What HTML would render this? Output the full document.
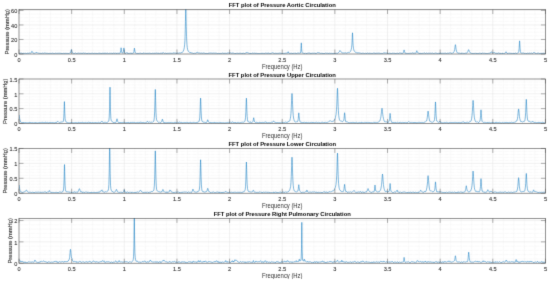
<!DOCTYPE html>
<html><head><meta charset="utf-8"><style>
html,body{margin:0;padding:0;background:#fff;width:550px;height:282px;overflow:hidden}
svg text{font-family:"Liberation Sans",sans-serif}
svg{will-change:transform}
.tl{font-size:5.6px;fill:#333333;stroke:#333333;stroke-width:0.1px;letter-spacing:0px}
.lb{font-size:5.9px;fill:#333333;stroke:#333333;stroke-width:0px;letter-spacing:0px}
.yl{font-size:5.75px;fill:#333333;stroke:#333333;stroke-width:0.12px;letter-spacing:0px}
.tt{font-size:5.85px;font-weight:bold;fill:#000;letter-spacing:0px}
.mg{stroke:#e6e6e6;stroke-width:0.4;stroke-dasharray:0.6 0.6}
.Mg{stroke:#e0e0e0;stroke-width:0.45}
.tk{stroke:#4a4a4a;stroke-width:0.5;stroke-opacity:0.85}
</style></head>
<body>
<svg width="550" height="282" viewBox="0 0 550 282" style="position:absolute;left:0;top:0"><defs><filter id="bl" x="0" y="0" width="550" height="282" filterUnits="userSpaceOnUse" color-interpolation-filters="sRGB"><feConvolveMatrix order="3" kernelMatrix="1 8 1 8 64 8 1 8 1" divisor="100" edgeMode="duplicate"/></filter></defs><g filter="url(#bl)"><rect width="550" height="282" fill="#fff"/><line x1="29.53" y1="9.5" x2="29.53" y2="54" class="mg"/><line x1="40.06" y1="9.5" x2="40.06" y2="54" class="mg"/><line x1="50.59" y1="9.5" x2="50.59" y2="54" class="mg"/><line x1="61.12" y1="9.5" x2="61.12" y2="54" class="mg"/><line x1="82.17" y1="9.5" x2="82.17" y2="54" class="mg"/><line x1="92.7" y1="9.5" x2="92.7" y2="54" class="mg"/><line x1="103.23" y1="9.5" x2="103.23" y2="54" class="mg"/><line x1="113.76" y1="9.5" x2="113.76" y2="54" class="mg"/><line x1="134.82" y1="9.5" x2="134.82" y2="54" class="mg"/><line x1="145.35" y1="9.5" x2="145.35" y2="54" class="mg"/><line x1="155.88" y1="9.5" x2="155.88" y2="54" class="mg"/><line x1="166.41" y1="9.5" x2="166.41" y2="54" class="mg"/><line x1="187.46" y1="9.5" x2="187.46" y2="54" class="mg"/><line x1="197.99" y1="9.5" x2="197.99" y2="54" class="mg"/><line x1="208.52" y1="9.5" x2="208.52" y2="54" class="mg"/><line x1="219.05" y1="9.5" x2="219.05" y2="54" class="mg"/><line x1="240.11" y1="9.5" x2="240.11" y2="54" class="mg"/><line x1="250.64" y1="9.5" x2="250.64" y2="54" class="mg"/><line x1="261.17" y1="9.5" x2="261.17" y2="54" class="mg"/><line x1="271.7" y1="9.5" x2="271.7" y2="54" class="mg"/><line x1="292.75" y1="9.5" x2="292.75" y2="54" class="mg"/><line x1="303.28" y1="9.5" x2="303.28" y2="54" class="mg"/><line x1="313.81" y1="9.5" x2="313.81" y2="54" class="mg"/><line x1="324.34" y1="9.5" x2="324.34" y2="54" class="mg"/><line x1="345.4" y1="9.5" x2="345.4" y2="54" class="mg"/><line x1="355.93" y1="9.5" x2="355.93" y2="54" class="mg"/><line x1="366.46" y1="9.5" x2="366.46" y2="54" class="mg"/><line x1="376.99" y1="9.5" x2="376.99" y2="54" class="mg"/><line x1="398.04" y1="9.5" x2="398.04" y2="54" class="mg"/><line x1="408.57" y1="9.5" x2="408.57" y2="54" class="mg"/><line x1="419.1" y1="9.5" x2="419.1" y2="54" class="mg"/><line x1="429.63" y1="9.5" x2="429.63" y2="54" class="mg"/><line x1="450.69" y1="9.5" x2="450.69" y2="54" class="mg"/><line x1="461.22" y1="9.5" x2="461.22" y2="54" class="mg"/><line x1="471.75" y1="9.5" x2="471.75" y2="54" class="mg"/><line x1="482.28" y1="9.5" x2="482.28" y2="54" class="mg"/><line x1="503.33" y1="9.5" x2="503.33" y2="54" class="mg"/><line x1="513.86" y1="9.5" x2="513.86" y2="54" class="mg"/><line x1="524.39" y1="9.5" x2="524.39" y2="54" class="mg"/><line x1="534.92" y1="9.5" x2="534.92" y2="54" class="mg"/><line x1="19" y1="50.37" x2="545.45" y2="50.37" class="mg"/><line x1="19" y1="46.74" x2="545.45" y2="46.74" class="mg"/><line x1="19" y1="43.11" x2="545.45" y2="43.11" class="mg"/><line x1="19" y1="35.85" x2="545.45" y2="35.85" class="mg"/><line x1="19" y1="32.22" x2="545.45" y2="32.22" class="mg"/><line x1="19" y1="28.59" x2="545.45" y2="28.59" class="mg"/><line x1="19" y1="21.33" x2="545.45" y2="21.33" class="mg"/><line x1="19" y1="17.7" x2="545.45" y2="17.7" class="mg"/><line x1="19" y1="14.07" x2="545.45" y2="14.07" class="mg"/><line x1="71.65" y1="9.5" x2="71.65" y2="54" class="Mg"/><line x1="124.29" y1="9.5" x2="124.29" y2="54" class="Mg"/><line x1="176.94" y1="9.5" x2="176.94" y2="54" class="Mg"/><line x1="229.58" y1="9.5" x2="229.58" y2="54" class="Mg"/><line x1="282.23" y1="9.5" x2="282.23" y2="54" class="Mg"/><line x1="334.87" y1="9.5" x2="334.87" y2="54" class="Mg"/><line x1="387.52" y1="9.5" x2="387.52" y2="54" class="Mg"/><line x1="440.16" y1="9.5" x2="440.16" y2="54" class="Mg"/><line x1="492.81" y1="9.5" x2="492.81" y2="54" class="Mg"/><line x1="19" y1="39.48" x2="545.45" y2="39.48" class="Mg"/><line x1="19" y1="24.96" x2="545.45" y2="24.96" class="Mg"/><line x1="19" y1="10.44" x2="545.45" y2="10.44" class="Mg"/><svg x="0" y="0" width="550" height="282" overflow="hidden"><clipPath id="c0"><rect x="19.0" y="9.5" width="526.45" height="44.5"/></clipPath><polyline points="19.00,53.56 19.33,53.38 19.66,53.23 19.99,53.16 20.32,53.19 20.65,53.17 20.98,53.33 21.30,53.26 21.63,53.15 21.96,53.30 22.29,53.58 22.62,53.44 22.95,53.44 23.28,53.59 23.61,53.04 23.94,53.02 24.27,53.23 24.60,53.43 24.93,53.44 25.26,53.15 25.58,53.40 25.91,53.51 26.24,53.51 26.57,53.49 26.90,53.34 27.23,53.22 27.56,53.13 27.89,52.99 28.22,53.46 28.55,53.10 28.88,53.09 29.21,53.20 29.54,52.98 29.86,53.01 30.19,53.24 30.52,53.21 30.85,52.80 31.18,52.74 31.27,52.60 31.51,52.14 31.58,51.96 31.74,51.55 31.84,51.33 31.90,51.24 32.06,51.33 32.17,51.54 32.22,51.62 32.50,52.10 32.53,52.16 32.83,52.70 33.16,53.13 33.49,53.19 33.82,52.95 34.14,52.92 34.47,53.31 34.80,53.29 35.13,53.16 35.46,52.99 35.79,52.67 36.12,52.76 36.45,52.55 36.78,52.55 37.11,52.61 37.44,52.99 37.77,53.06 38.10,53.07 38.42,53.08 38.75,53.26 39.08,53.39 39.41,53.34 39.74,53.24 40.07,53.28 40.40,53.40 40.73,53.19 41.06,53.18 41.39,53.40 41.72,53.33 42.05,53.18 42.38,53.13 42.71,53.10 43.03,53.06 43.36,53.21 43.69,53.41 44.02,53.34 44.35,53.09 44.68,53.05 45.01,53.16 45.34,53.16 45.67,53.19 46.00,53.32 46.33,53.33 46.66,53.29 46.99,53.39 47.31,53.52 47.64,53.21 47.97,53.10 48.30,53.37 48.63,53.44 48.96,53.16 49.29,53.19 49.62,53.50 49.95,53.60 50.28,53.57 50.61,53.26 50.94,53.50 51.27,53.47 51.59,53.38 51.92,53.24 52.25,53.23 52.58,53.17 52.91,53.23 53.24,53.32 53.57,53.44 53.90,53.64 54.23,53.60 54.56,53.57 54.89,53.51 55.22,53.31 55.55,53.20 55.87,53.38 56.20,53.49 56.53,53.39 56.86,53.04 57.19,53.31 57.52,53.30 57.85,53.19 58.18,53.25 58.51,53.22 58.84,53.30 59.17,53.33 59.50,53.29 59.83,53.19 60.15,53.49 60.48,53.34 60.81,53.12 61.14,53.08 61.47,53.59 61.80,53.56 62.13,53.51 62.46,53.50 62.79,53.59 63.12,53.57 63.45,53.38 63.78,53.30 64.11,53.57 64.43,53.61 64.76,53.17 65.09,53.17 65.42,53.37 65.75,53.29 66.08,53.32 66.41,53.38 66.74,53.39 67.07,53.34 67.40,53.50 67.73,53.29 68.06,53.33 68.39,53.45 68.71,53.50 69.04,53.44 69.37,53.31 69.70,53.10 70.03,52.78 70.36,52.74 70.69,51.94 70.87,51.34 71.02,50.89 71.14,50.43 71.27,49.83 71.35,49.60 71.40,49.57 71.53,49.91 71.66,50.56 71.68,50.64 71.93,51.57 72.01,51.79 72.34,52.77 72.67,53.00 72.99,52.84 73.32,53.26 73.65,53.37 73.98,53.40 74.31,53.41 74.64,53.39 74.97,53.00 75.30,52.96 75.63,53.08 75.96,53.27 76.29,53.45 76.62,53.56 76.95,53.51 77.27,53.41 77.60,53.27 77.93,53.10 78.26,53.15 78.59,53.10 78.92,53.05 79.25,53.08 79.58,53.37 79.91,53.25 80.24,53.23 80.57,53.32 80.90,53.14 81.23,53.45 81.56,53.20 81.88,53.09 82.21,53.56 82.54,53.16 82.87,53.22 83.20,53.07 83.53,52.88 83.86,53.27 84.19,52.90 84.52,53.28 84.85,53.43 85.18,53.10 85.51,53.14 85.84,53.26 86.16,53.39 86.49,53.50 86.82,53.39 87.15,53.35 87.48,53.45 87.81,53.52 88.14,53.51 88.47,53.09 88.80,53.25 89.13,53.38 89.46,53.43 89.79,53.24 90.12,53.23 90.44,53.47 90.77,53.45 91.10,53.27 91.43,53.27 91.76,53.54 92.09,53.51 92.42,53.37 92.75,53.09 93.08,53.27 93.41,53.45 93.74,53.46 94.07,53.39 94.40,53.35 94.72,53.20 95.05,53.12 95.38,53.23 95.71,53.60 96.04,53.63 96.37,53.42 96.70,53.50 97.03,53.63 97.36,53.56 97.69,53.59 98.02,53.60 98.35,53.48 98.68,53.27 99.00,53.59 99.33,53.33 99.66,53.13 99.99,53.13 100.32,53.55 100.65,53.16 100.98,53.23 101.31,53.37 101.64,53.48 101.97,53.01 102.30,53.13 102.63,53.28 102.96,53.27 103.28,53.01 103.61,53.46 103.94,53.07 104.27,53.00 104.60,53.11 104.93,53.54 105.26,53.07 105.59,53.09 105.92,53.09 106.25,53.06 106.58,53.46 106.91,53.21 107.24,53.15 107.56,53.19 107.89,53.42 108.22,53.62 108.55,53.64 108.88,53.52 109.21,53.31 109.54,53.29 109.87,53.53 110.20,53.38 110.53,53.32 110.86,53.61 111.19,53.34 111.52,53.32 111.84,53.40 112.17,53.53 112.50,53.62 112.83,53.10 113.16,53.05 113.49,53.09 113.82,53.13 114.15,53.55 114.48,53.34 114.81,53.14 115.14,53.02 115.47,53.13 115.80,53.17 116.12,53.47 116.45,53.48 116.78,53.26 117.11,53.46 117.44,53.04 117.77,53.30 118.10,53.56 118.43,53.43 118.76,52.99 119.09,53.31 119.42,53.36 119.75,53.20 120.08,52.99 120.41,52.04 120.68,50.81 120.73,50.46 120.89,49.21 120.99,48.29 121.06,47.88 121.10,47.77 121.21,47.97 121.31,48.75 121.39,49.53 121.52,50.74 121.72,52.09 122.05,52.92 122.38,53.07 122.71,52.92 123.04,52.39 123.37,51.53 123.48,50.94 123.69,49.22 123.70,49.14 123.79,48.31 123.90,47.92 124.01,48.34 124.03,48.50 124.11,49.24 124.32,50.92 124.36,51.14 124.69,52.77 125.01,53.08 125.34,53.23 125.67,53.31 126.00,53.27 126.33,52.95 126.66,52.78 126.99,52.39 127.32,52.75 127.65,53.44 127.98,53.01 128.31,53.24 128.64,53.39 128.97,53.10 129.29,53.04 129.62,53.45 129.95,53.44 130.28,53.21 130.61,52.96 130.94,53.53 131.27,53.39 131.60,53.27 131.93,53.29 132.26,53.30 132.59,53.36 132.92,53.33 133.25,53.18 133.57,52.74 133.90,51.61 133.98,51.17 134.19,49.43 134.23,49.03 134.29,48.52 134.40,48.11 134.51,48.45 134.56,48.84 134.61,49.20 134.82,50.71 134.89,51.13 135.22,52.27 135.55,53.06 135.88,53.36 136.21,53.47 136.54,53.37 136.87,53.03 137.20,53.35 137.53,53.37 137.85,53.21 138.18,53.56 138.51,53.42 138.84,53.47 139.17,53.45 139.50,53.23 139.83,53.39 140.16,53.19 140.49,53.20 140.82,53.31 141.15,53.38 141.48,53.61 141.81,53.29 142.13,53.25 142.46,53.61 142.79,53.32 143.12,53.05 143.45,53.06 143.78,53.17 144.11,53.41 144.44,53.05 144.77,53.34 145.10,53.40 145.43,53.26 145.76,53.27 146.09,53.18 146.41,53.33 146.74,53.44 147.07,53.39 147.40,53.43 147.73,53.14 148.06,53.09 148.39,53.19 148.72,53.42 149.05,53.17 149.38,53.20 149.71,53.31 150.04,53.48 150.37,53.32 150.69,53.53 151.02,53.55 151.35,53.52 151.68,53.60 152.01,53.60 152.34,53.36 152.67,53.19 153.00,53.10 153.33,53.09 153.66,53.43 153.99,53.25 154.32,53.10 154.65,53.42 154.97,53.20 155.30,53.23 155.63,53.28 155.96,53.31 156.29,53.19 156.62,53.07 156.95,53.13 157.28,53.21 157.61,53.30 157.94,53.07 158.27,53.13 158.60,53.25 158.93,53.34 159.26,52.99 159.58,53.33 159.91,53.52 160.24,53.43 160.57,52.99 160.90,53.00 161.23,53.21 161.56,53.19 161.89,53.11 162.22,53.11 162.55,53.38 162.88,52.72 163.21,52.68 163.54,53.00 163.86,52.90 164.19,53.22 164.52,53.36 164.85,53.36 165.18,53.11 165.51,53.25 165.84,53.09 166.17,53.26 166.50,53.54 166.83,53.16 167.16,53.03 167.49,53.30 167.82,53.51 168.14,53.54 168.47,53.29 168.80,53.20 169.13,53.18 169.46,53.19 169.79,53.25 170.12,53.36 170.45,53.21 170.78,53.06 171.11,52.95 171.44,53.24 171.77,53.30 172.10,53.11 172.42,53.01 172.75,53.41 173.08,53.14 173.41,52.96 173.74,52.90 174.07,52.93 174.40,52.99 174.73,53.04 175.06,53.14 175.39,53.13 175.72,52.88 176.05,53.48 176.38,53.28 176.70,53.19 177.03,53.15 177.36,52.98 177.69,53.22 178.02,53.27 178.35,53.22 178.68,53.07 179.01,52.93 179.34,52.95 179.67,52.82 180.00,52.70 180.33,52.87 180.66,52.98 180.98,52.72 181.31,52.59 181.64,52.60 181.97,52.68 182.30,52.29 182.63,52.11 182.96,51.80 183.29,51.06 183.62,50.24 183.95,49.31 184.28,47.68 184.61,44.88 184.94,40.19 185.08,36.33 185.26,29.75 185.44,21.58 185.59,14.31 185.62,13.19 185.80,9.31 185.92,11.33 185.98,13.37 186.16,21.96 186.25,26.49 186.52,36.26 186.58,38.03 186.91,44.29 187.24,47.52 187.57,49.27 187.90,50.27 188.23,51.08 188.56,51.58 188.89,51.87 189.22,51.98 189.54,52.20 189.87,52.66 190.20,52.70 190.53,52.62 190.86,52.59 191.19,53.11 191.52,52.86 191.85,52.94 192.18,53.26 192.51,53.04 192.84,53.10 193.17,53.26 193.50,53.38 193.82,53.35 194.15,52.99 194.48,53.19 194.81,53.19 195.14,53.12 195.47,53.32 195.80,53.04 196.13,52.85 196.46,52.75 196.79,52.77 197.12,52.87 197.45,52.35 197.78,52.28 198.10,52.56 198.43,52.83 198.76,52.93 199.09,52.80 199.42,52.89 199.75,53.21 200.08,53.31 200.41,53.19 200.74,53.15 201.07,53.11 201.40,53.06 201.73,53.10 202.06,53.13 202.39,53.21 202.71,53.32 203.04,53.31 203.37,52.99 203.70,53.14 204.03,53.23 204.36,53.11 204.69,53.37 205.02,53.56 205.35,53.50 205.68,53.35 206.01,53.27 206.34,53.35 206.67,53.44 206.99,53.50 207.32,53.52 207.65,53.60 207.98,53.24 208.31,53.22 208.64,53.24 208.97,53.09 209.30,53.06 209.63,53.11 209.96,53.12 210.29,53.10 210.62,53.03 210.95,53.03 211.27,53.06 211.60,53.08 211.93,53.05 212.26,53.40 212.59,53.09 212.92,53.00 213.25,53.05 213.58,53.10 213.91,53.08 214.24,53.12 214.57,53.18 214.90,53.26 215.23,53.30 215.55,53.08 215.88,53.22 216.21,53.42 216.54,53.21 216.87,53.04 217.20,53.32 217.53,53.49 217.86,53.53 218.19,53.44 218.52,53.37 218.85,53.33 219.18,53.34 219.51,53.49 219.83,53.48 220.16,53.53 220.49,53.46 220.82,53.34 221.15,53.53 221.48,53.39 221.81,53.39 222.14,53.25 222.47,53.09 222.80,53.18 223.13,53.41 223.46,53.25 223.79,53.03 224.11,53.45 224.44,53.07 224.77,53.28 225.10,53.38 225.43,53.25 225.76,53.23 226.09,53.23 226.42,53.30 226.75,53.31 227.08,53.03 227.41,53.08 227.74,53.00 228.07,52.86 228.39,52.92 228.72,53.06 229.05,53.10 229.38,53.06 229.71,53.01 230.04,53.04 230.37,52.85 230.70,52.98 231.03,52.99 231.36,52.97 231.69,53.38 232.02,53.43 232.35,53.15 232.67,53.07 233.00,53.35 233.33,53.25 233.66,53.10 233.99,53.29 234.32,53.56 234.65,53.57 234.98,53.35 235.31,53.45 235.64,53.54 235.97,53.58 236.30,53.18 236.63,53.26 236.95,53.32 237.28,53.32 237.61,53.23 237.94,53.43 238.27,53.40 238.60,53.40 238.93,53.41 239.26,53.22 239.59,53.33 239.92,53.30 240.25,53.27 240.58,53.28 240.91,53.27 241.23,53.53 241.56,53.40 241.89,53.11 242.22,53.03 242.55,53.53 242.88,53.30 243.21,53.16 243.54,53.23 243.87,53.12 244.20,53.49 244.53,53.56 244.86,53.47 245.19,53.16 245.52,53.09 245.84,53.19 246.17,52.97 246.50,52.49 246.83,52.78 247.16,52.47 247.49,52.65 247.82,52.85 248.15,52.98 248.48,52.95 248.81,53.26 249.14,53.30 249.47,53.24 249.80,53.60 250.12,53.17 250.45,53.35 250.78,53.53 251.11,53.58 251.44,53.14 251.77,53.50 252.10,53.43 252.43,53.19 252.76,53.01 253.09,53.27 253.42,53.29 253.75,53.24 254.08,53.14 254.40,53.16 254.73,53.29 255.06,53.47 255.39,53.50 255.72,53.00 256.05,53.16 256.38,53.29 256.71,53.29 257.04,53.24 257.37,53.49 257.70,53.50 258.03,53.57 258.36,53.57 258.68,53.39 259.01,53.28 259.34,53.51 259.67,53.57 260.00,53.52 260.33,53.40 260.66,53.63 260.99,53.32 261.32,53.24 261.65,53.53 261.98,53.06 262.31,53.23 262.64,53.36 262.96,53.48 263.29,53.61 263.62,53.26 263.95,53.49 264.28,53.56 264.61,53.40 264.94,52.99 265.27,53.09 265.60,53.15 265.93,53.20 266.26,53.27 266.59,53.24 266.92,53.18 267.24,53.12 267.57,53.12 267.90,53.59 268.23,53.12 268.56,53.02 268.89,53.06 269.22,53.26 269.55,53.42 269.88,53.56 270.21,53.51 270.54,53.42 270.87,53.58 271.20,53.16 271.52,53.10 271.85,53.01 272.18,52.82 272.51,52.73 272.84,53.14 273.17,53.16 273.50,53.07 273.83,53.10 274.16,53.22 274.49,53.43 274.82,53.35 275.15,53.06 275.48,53.27 275.80,53.32 276.13,53.19 276.46,53.19 276.79,53.57 277.12,53.63 277.45,53.31 277.78,53.19 278.11,53.19 278.44,53.30 278.77,53.28 279.10,53.19 279.43,53.13 279.76,53.11 280.08,53.22 280.41,53.18 280.74,53.24 281.07,53.35 281.40,53.54 281.73,53.15 282.06,53.46 282.39,53.59 282.72,53.52 283.05,53.27 283.38,53.38 283.71,53.22 284.04,53.13 284.37,53.43 284.69,53.32 285.02,53.46 285.35,53.34 285.68,53.10 286.01,53.38 286.34,53.16 286.67,53.10 287.00,53.09 287.33,53.10 287.66,53.01 287.67,52.99 287.94,52.23 287.99,52.04 288.07,51.80 288.20,51.73 288.32,52.03 288.33,52.09 288.46,52.57 288.65,52.86 288.73,52.84 288.97,52.77 289.30,53.35 289.63,53.35 289.96,53.31 290.29,53.32 290.62,53.34 290.95,53.26 291.28,53.21 291.61,53.19 291.94,53.19 292.27,53.58 292.60,53.46 292.93,53.44 293.25,53.48 293.58,53.00 293.91,53.24 294.24,53.12 294.57,53.10 294.90,53.50 295.23,53.20 295.56,53.27 295.89,53.34 296.22,53.43 296.55,53.51 296.88,53.26 297.21,53.11 297.53,53.10 297.86,53.29 298.19,53.26 298.52,53.02 298.85,53.16 299.18,53.37 299.51,53.28 299.84,52.88 300.17,53.07 300.50,52.86 300.83,51.07 300.98,48.75 301.14,45.27 301.16,44.94 301.22,43.58 301.30,42.85 301.38,43.64 301.46,45.36 301.49,46.00 301.62,48.68 301.81,51.03 302.14,52.43 302.47,52.95 302.80,53.26 303.13,53.15 303.46,53.16 303.79,53.26 304.12,53.17 304.45,53.43 304.78,53.52 305.11,53.42 305.44,52.98 305.77,53.00 306.09,53.33 306.42,53.44 306.75,53.43 307.08,53.04 307.41,53.13 307.74,53.25 308.07,53.24 308.40,53.05 308.73,53.07 309.06,53.06 309.39,53.02 309.72,52.97 310.05,53.00 310.37,53.49 310.70,53.26 311.03,53.29 311.36,53.50 311.69,53.02 312.02,53.06 312.35,53.15 312.68,53.24 313.01,53.33 313.34,53.17 313.67,53.35 314.00,53.31 314.33,53.13 314.65,52.96 314.98,53.50 315.31,53.42 315.64,53.24 315.97,53.03 316.30,53.39 316.63,53.25 316.96,53.00 317.29,52.72 317.62,52.65 317.95,52.63 318.28,52.61 318.61,52.80 318.93,53.01 319.26,53.05 319.59,52.86 319.92,53.11 320.25,53.38 320.58,53.35 320.91,53.01 321.24,53.19 321.57,53.24 321.90,53.17 322.23,53.04 322.56,53.49 322.89,53.53 323.22,53.51 323.54,53.53 323.87,53.51 324.20,53.57 324.53,53.54 324.86,53.41 325.19,53.02 325.52,53.03 325.85,53.12 326.18,53.21 326.51,53.28 326.84,53.14 327.17,53.02 327.50,53.21 327.82,53.39 328.15,53.14 328.48,53.52 328.81,53.43 329.14,53.34 329.47,53.27 329.80,53.21 330.13,53.44 330.46,53.41 330.79,53.38 331.12,53.50 331.45,53.38 331.78,53.16 332.10,53.22 332.43,53.44 332.76,53.39 333.09,53.22 333.42,53.36 333.75,53.35 334.08,53.02 334.41,53.36 334.74,53.37 335.07,53.37 335.40,53.34 335.73,53.25 336.06,53.24 336.38,53.24 336.71,53.23 337.04,53.21 337.37,53.31 337.70,53.32 338.03,52.97 338.36,52.57 338.69,52.37 339.02,52.11 339.15,51.97 339.35,51.80 339.67,51.18 339.68,51.17 339.94,50.54 340.01,50.50 340.20,50.75 340.34,50.95 340.46,51.10 340.66,51.46 340.73,51.57 340.99,51.70 341.25,51.83 341.32,51.96 341.65,52.48 341.98,52.70 342.31,52.86 342.64,52.90 342.97,52.88 343.30,52.94 343.63,52.91 343.96,53.01 344.29,53.01 344.62,52.88 344.94,52.95 345.27,52.85 345.60,52.83 345.93,52.90 346.26,53.24 346.59,53.01 346.92,52.85 347.25,52.75 347.58,52.68 347.91,52.77 348.24,52.59 348.57,52.37 348.90,52.27 349.22,52.50 349.55,52.30 349.88,52.04 350.21,51.76 350.54,51.35 350.60,51.19 350.87,50.47 351.20,49.57 351.53,47.90 351.55,47.73 351.86,44.97 352.03,42.59 352.19,39.08 352.26,37.09 352.38,34.12 352.50,32.80 352.52,32.83 352.62,34.20 352.74,37.28 352.85,40.19 352.97,42.93 353.18,45.74 353.45,47.92 353.50,48.30 353.83,49.99 354.16,50.86 354.40,51.24 354.49,51.31 354.82,51.59 355.15,51.77 355.48,52.33 355.81,52.53 356.14,52.75 356.47,52.82 356.80,52.42 357.13,52.60 357.46,52.79 357.78,53.01 358.11,53.19 358.44,52.70 358.77,52.93 359.10,52.95 359.43,52.95 359.76,52.99 360.09,53.08 360.42,53.17 360.75,53.10 361.08,53.02 361.41,53.42 361.74,53.31 362.06,53.20 362.39,53.16 362.72,53.23 363.05,53.21 363.38,53.19 363.71,53.33 364.04,53.49 364.37,53.46 364.70,53.57 365.03,53.29 365.36,53.15 365.69,53.19 366.02,53.58 366.35,53.49 366.67,53.43 367.00,53.32 367.33,53.08 367.66,53.11 367.99,53.38 368.32,53.42 368.65,53.30 368.98,53.23 369.31,53.11 369.64,53.33 369.97,53.50 370.30,53.48 370.63,53.12 370.95,53.15 371.28,53.28 371.61,53.43 371.94,53.47 372.27,53.35 372.60,53.51 372.93,53.49 373.26,53.21 373.59,53.11 373.92,53.42 374.25,53.27 374.58,53.05 374.91,53.08 375.23,53.57 375.56,53.28 375.89,53.13 376.22,53.13 376.55,53.24 376.88,53.45 377.21,53.40 377.54,53.25 377.87,53.01 378.20,53.23 378.53,53.06 378.86,53.04 379.19,53.11 379.51,53.24 379.84,53.11 380.17,53.24 380.50,53.39 380.83,53.54 381.16,53.28 381.49,53.46 381.82,53.47 382.15,53.46 382.48,53.58 382.81,53.30 383.14,53.17 383.47,53.05 383.79,52.94 384.12,53.06 384.45,53.01 384.78,52.81 385.11,52.66 385.44,53.16 385.77,53.10 386.10,53.02 386.43,53.06 386.76,53.20 387.09,53.37 387.42,53.18 387.75,53.09 388.07,53.13 388.40,53.36 388.73,53.49 389.06,53.43 389.39,53.30 389.72,53.21 390.05,53.51 390.38,53.51 390.71,53.19 391.04,53.19 391.37,53.62 391.70,53.58 392.03,53.20 392.35,53.16 392.68,53.18 393.01,53.06 393.34,53.03 393.67,53.37 394.00,53.40 394.33,53.18 394.66,53.46 394.99,53.24 395.32,53.42 395.65,53.50 395.98,53.13 396.31,53.48 396.63,53.28 396.96,53.25 397.29,53.30 397.62,53.18 397.95,53.32 398.28,53.48 398.61,53.51 398.94,53.33 399.27,53.30 399.60,52.81 399.93,52.88 400.26,53.17 400.59,52.87 400.91,53.34 401.24,53.33 401.57,53.22 401.90,53.05 402.23,53.13 402.56,53.36 402.89,53.21 403.22,52.80 403.55,52.06 403.57,51.97 403.84,50.72 403.88,50.51 403.97,50.13 404.10,49.90 404.21,50.11 404.23,50.20 404.36,50.77 404.54,51.54 404.63,51.87 404.87,52.52 405.19,53.24 405.52,53.18 405.85,53.21 406.18,53.29 406.51,53.47 406.84,53.22 407.17,53.44 407.50,53.45 407.83,53.38 408.16,53.54 408.49,53.40 408.82,53.50 409.15,53.48 409.48,53.25 409.80,53.23 410.13,53.04 410.46,53.19 410.79,53.43 411.12,53.52 411.45,53.32 411.78,53.09 412.11,52.99 412.44,52.99 412.77,52.71 413.10,53.25 413.43,53.25 413.76,53.22 414.08,53.50 414.41,53.20 414.74,53.09 415.07,53.10 415.40,53.17 415.73,53.18 416.06,52.73 416.37,51.97 416.39,51.91 416.64,51.03 416.72,50.84 416.77,50.78 416.90,50.79 417.03,51.04 417.05,51.08 417.16,51.36 417.38,51.83 417.43,51.95 417.71,52.49 418.04,52.41 418.36,52.76 418.69,53.31 419.02,53.01 419.35,53.35 419.68,53.36 420.01,52.96 420.34,53.47 420.67,53.31 421.00,53.36 421.33,53.42 421.66,53.39 421.99,53.01 422.32,53.28 422.64,53.29 422.97,53.07 423.30,53.01 423.63,53.34 423.96,53.19 424.29,53.01 424.62,52.94 424.95,53.25 425.28,53.43 425.61,53.47 425.94,53.41 426.27,53.25 426.60,53.02 426.92,53.09 427.25,53.23 427.58,53.46 427.91,53.55 428.24,53.24 428.57,53.24 428.90,53.34 429.23,53.44 429.56,53.13 429.89,53.33 430.22,53.35 430.55,53.14 430.88,53.14 431.20,53.13 431.53,53.32 431.86,53.46 432.19,53.32 432.52,53.07 432.85,53.35 433.18,53.51 433.51,53.60 433.84,53.62 434.17,53.28 434.50,53.29 434.83,53.29 435.16,53.17 435.48,53.04 435.81,53.21 436.14,53.31 436.47,53.33 436.80,53.06 437.13,53.18 437.46,53.46 437.79,53.57 438.12,53.46 438.45,53.25 438.78,53.46 439.11,53.25 439.44,53.10 439.76,53.61 440.09,53.08 440.42,53.03 440.75,53.15 441.08,53.39 441.41,53.40 441.74,53.28 442.07,53.38 442.40,53.37 442.73,52.99 443.06,53.20 443.39,53.28 443.72,53.36 444.04,53.44 444.37,53.25 444.70,53.23 445.03,53.18 445.36,53.14 445.69,53.14 446.02,53.13 446.35,53.47 446.68,53.43 447.01,53.29 447.34,53.33 447.67,53.06 448.00,53.26 448.33,53.31 448.65,53.17 448.98,53.06 449.31,53.02 449.64,52.91 449.97,52.82 450.30,52.89 450.63,52.85 450.96,53.15 451.29,53.24 451.62,53.21 451.95,53.42 452.28,53.05 452.61,53.02 452.93,53.01 453.26,52.92 453.59,52.38 453.92,51.89 454.25,51.17 454.58,49.92 454.66,49.45 454.91,47.69 455.03,46.70 455.22,45.30 455.24,45.16 455.40,44.66 455.57,45.16 455.58,45.25 455.77,46.66 455.90,47.76 456.14,49.53 456.23,50.02 456.56,51.14 456.89,52.33 457.21,52.69 457.54,52.77 457.87,52.98 458.20,53.16 458.53,53.05 458.86,53.16 459.19,53.42 459.52,52.92 459.85,53.00 460.18,53.26 460.51,53.35 460.84,52.99 461.17,53.33 461.49,53.17 461.82,53.29 462.15,53.50 462.48,53.05 462.81,53.09 463.14,53.23 463.47,53.33 463.80,53.33 464.13,53.25 464.46,53.45 464.79,53.23 465.12,52.96 465.45,53.21 465.77,53.12 466.10,53.10 466.43,53.15 466.76,53.22 467.09,52.72 467.42,52.25 467.75,51.64 467.86,51.36 468.08,50.79 468.23,50.45 468.41,49.95 468.42,49.93 468.60,49.64 468.74,49.80 468.78,49.92 468.97,50.41 469.07,50.64 469.34,51.39 469.40,51.56 469.73,52.27 470.05,52.70 470.38,52.89 470.71,52.92 471.04,53.01 471.37,53.33 471.70,53.33 472.03,53.35 472.36,53.41 472.69,53.44 473.02,53.21 473.35,53.57 473.68,53.36 474.01,53.27 474.33,53.43 474.66,53.36 474.99,53.50 475.32,53.31 475.65,53.15 475.98,53.50 476.31,53.61 476.64,53.27 476.97,53.28 477.30,53.60 477.63,53.45 477.96,53.05 478.29,53.28 478.61,53.48 478.94,53.29 479.27,53.18 479.60,53.25 479.93,53.28 480.26,53.28 480.59,53.14 480.92,53.56 481.25,53.51 481.58,53.46 481.91,53.51 482.24,53.00 482.57,53.04 482.89,53.26 483.22,53.48 483.55,53.28 483.88,53.17 484.21,53.24 484.54,53.24 484.87,53.15 485.20,53.13 485.53,53.52 485.86,53.59 486.19,53.55 486.52,53.49 486.85,53.49 487.18,53.54 487.50,53.51 487.83,53.42 488.16,53.33 488.49,53.32 488.82,53.42 489.15,53.42 489.48,53.19 489.81,53.11 490.14,53.23 490.47,52.95 490.80,52.41 491.13,52.09 491.46,51.69 491.78,52.45 492.11,52.86 492.44,52.84 492.77,52.91 493.10,52.68 493.43,52.68 493.76,52.70 494.09,52.66 494.42,52.54 494.75,53.00 495.08,53.22 495.41,53.22 495.74,53.37 496.06,53.52 496.39,53.23 496.72,53.10 497.05,53.60 497.38,53.27 497.71,53.26 498.04,53.18 498.37,53.05 498.70,52.98 499.03,53.14 499.36,53.25 499.69,53.24 500.02,53.05 500.34,53.50 500.67,53.28 501.00,53.31 501.33,53.37 501.66,53.02 501.99,53.55 502.32,53.37 502.65,53.30 502.98,53.43 503.31,53.00 503.64,53.41 503.97,53.31 504.30,53.19 504.62,53.54 504.95,53.30 505.28,53.01 505.47,52.76 505.61,52.47 505.74,52.14 505.87,51.86 505.94,51.76 506.00,51.72 506.13,51.79 506.26,52.01 506.27,52.02 506.53,52.62 506.60,52.77 506.93,53.21 507.26,53.41 507.59,53.36 507.92,53.52 508.25,53.17 508.58,53.17 508.90,53.34 509.23,53.33 509.56,53.18 509.89,53.19 510.22,53.24 510.55,53.31 510.88,53.37 511.21,53.27 511.54,53.42 511.87,53.54 512.20,53.16 512.53,53.43 512.86,53.44 513.18,53.49 513.51,53.55 513.84,52.99 514.17,53.28 514.50,53.47 514.83,53.46 515.16,52.95 515.49,53.07 515.82,53.05 516.15,53.21 516.48,53.47 516.81,53.39 517.14,53.05 517.46,53.03 517.79,52.97 518.12,52.74 518.45,52.45 518.78,51.49 519.11,48.62 519.18,47.63 519.39,43.70 519.44,42.67 519.49,41.71 519.60,40.84 519.71,41.73 519.77,42.88 519.81,43.72 520.02,47.71 520.10,48.82 520.43,51.78 520.76,52.76 521.09,52.89 521.42,53.04 521.74,53.16 522.07,53.05 522.40,52.96 522.73,53.21 523.06,53.02 523.39,53.01 523.72,53.04 524.05,53.13 524.38,53.57 524.71,53.27 525.04,53.31 525.37,53.34 525.70,53.15 526.03,53.55 526.35,53.62 526.68,53.45 527.01,53.18 527.34,53.21 527.67,53.21 528.00,53.43 528.33,53.48 528.66,53.20 528.99,53.05 529.32,53.07 529.65,53.17 529.98,53.30 530.31,53.41 530.63,53.08 530.96,53.03 531.29,53.04 531.62,53.12 531.95,53.32 532.28,53.50 532.61,53.41 532.94,53.19 533.27,52.86 533.47,52.89 533.60,52.86 533.74,52.66 533.87,52.44 533.93,52.36 534.00,52.31 534.13,52.39 534.26,52.57 534.26,52.58 534.53,52.95 534.59,52.98 534.91,52.94 535.24,53.31 535.57,53.30 535.90,53.29 536.23,53.44 536.56,53.02 536.89,53.39 537.22,53.33 537.55,53.13 537.88,53.39 538.21,53.18 538.54,53.07 538.87,53.18 539.19,53.52 539.52,53.46 539.85,53.51 540.18,53.52 540.51,53.46 540.84,53.16 541.17,53.45 541.50,53.35 541.83,53.40 542.16,53.55 542.49,53.32 542.82,53.44 543.15,53.31 543.47,53.23 543.80,53.42 544.13,53.59 544.46,53.41 544.79,53.40 545.12,53.52 545.45,53.65" fill="none" stroke="#0072BD" stroke-width="0.5" stroke-opacity="1" stroke-linejoin="round" clip-path="url(#c0)"/></svg><rect x="19.0" y="9.5" width="526.45" height="44.5" fill="none" stroke="#4a4a4a" stroke-width="0.6" class="ax"/><line x1="19" y1="54" x2="19" y2="49.5" class="tk"/><line x1="19" y1="9.5" x2="19" y2="14" class="tk"/><text transform="translate(19,61.7) scale(1,1.1)" class="tl" text-anchor="middle">0</text><line x1="71.65" y1="54" x2="71.65" y2="49.5" class="tk"/><line x1="71.65" y1="9.5" x2="71.65" y2="14" class="tk"/><text transform="translate(71.65,61.7) scale(1,1.1)" class="tl" text-anchor="middle">0.5</text><line x1="124.29" y1="54" x2="124.29" y2="49.5" class="tk"/><line x1="124.29" y1="9.5" x2="124.29" y2="14" class="tk"/><text transform="translate(124.29,61.7) scale(1,1.1)" class="tl" text-anchor="middle">1</text><line x1="176.94" y1="54" x2="176.94" y2="49.5" class="tk"/><line x1="176.94" y1="9.5" x2="176.94" y2="14" class="tk"/><text transform="translate(176.94,61.7) scale(1,1.1)" class="tl" text-anchor="middle">1.5</text><line x1="229.58" y1="54" x2="229.58" y2="49.5" class="tk"/><line x1="229.58" y1="9.5" x2="229.58" y2="14" class="tk"/><text transform="translate(229.58,61.7) scale(1,1.1)" class="tl" text-anchor="middle">2</text><line x1="282.23" y1="54" x2="282.23" y2="49.5" class="tk"/><line x1="282.23" y1="9.5" x2="282.23" y2="14" class="tk"/><text transform="translate(282.23,61.7) scale(1,1.1)" class="tl" text-anchor="middle">2.5</text><line x1="334.87" y1="54" x2="334.87" y2="49.5" class="tk"/><line x1="334.87" y1="9.5" x2="334.87" y2="14" class="tk"/><text transform="translate(334.87,61.7) scale(1,1.1)" class="tl" text-anchor="middle">3</text><line x1="387.52" y1="54" x2="387.52" y2="49.5" class="tk"/><line x1="387.52" y1="9.5" x2="387.52" y2="14" class="tk"/><text transform="translate(387.52,61.7) scale(1,1.1)" class="tl" text-anchor="middle">3.5</text><line x1="440.16" y1="54" x2="440.16" y2="49.5" class="tk"/><line x1="440.16" y1="9.5" x2="440.16" y2="14" class="tk"/><text transform="translate(440.16,61.7) scale(1,1.1)" class="tl" text-anchor="middle">4</text><line x1="492.81" y1="54" x2="492.81" y2="49.5" class="tk"/><line x1="492.81" y1="9.5" x2="492.81" y2="14" class="tk"/><text transform="translate(492.81,61.7) scale(1,1.1)" class="tl" text-anchor="middle">4.5</text><line x1="545.45" y1="54" x2="545.45" y2="49.5" class="tk"/><line x1="545.45" y1="9.5" x2="545.45" y2="14" class="tk"/><text transform="translate(545.45,61.7) scale(1,1.1)" class="tl" text-anchor="middle">5</text><line x1="19" y1="54" x2="23.5" y2="54" class="tk"/><line x1="545.45" y1="54" x2="540.95" y2="54" class="tk"/><text transform="translate(17.3,56.7) scale(1,1.1)" class="tl" text-anchor="end">0</text><line x1="19" y1="39.48" x2="23.5" y2="39.48" class="tk"/><line x1="545.45" y1="39.48" x2="540.95" y2="39.48" class="tk"/><text transform="translate(17.3,42.18) scale(1,1.1)" class="tl" text-anchor="end">20</text><line x1="19" y1="24.96" x2="23.5" y2="24.96" class="tk"/><line x1="545.45" y1="24.96" x2="540.95" y2="24.96" class="tk"/><text transform="translate(17.3,27.66) scale(1,1.1)" class="tl" text-anchor="end">40</text><line x1="19" y1="10.44" x2="23.5" y2="10.44" class="tk"/><line x1="545.45" y1="10.44" x2="540.95" y2="10.44" class="tk"/><text transform="translate(17.3,13.14) scale(1,1.1)" class="tl" text-anchor="end">60</text><text transform="translate(282.23,68.6) scale(1,1.1)" class="lb" text-anchor="middle">Frequency (Hz)</text><text transform="translate(8.6,31.75) rotate(-90)" x="0" y="0" class="yl" text-anchor="middle">Pressure (mmHg)</text><text transform="translate(282.23,7.3) scale(1,1.05)" class="tt" text-anchor="middle">FFT plot of Pressure Aortic Circulation</text><line x1="29.53" y1="79" x2="29.53" y2="123.4" class="mg"/><line x1="40.06" y1="79" x2="40.06" y2="123.4" class="mg"/><line x1="50.59" y1="79" x2="50.59" y2="123.4" class="mg"/><line x1="61.12" y1="79" x2="61.12" y2="123.4" class="mg"/><line x1="82.17" y1="79" x2="82.17" y2="123.4" class="mg"/><line x1="92.7" y1="79" x2="92.7" y2="123.4" class="mg"/><line x1="103.23" y1="79" x2="103.23" y2="123.4" class="mg"/><line x1="113.76" y1="79" x2="113.76" y2="123.4" class="mg"/><line x1="134.82" y1="79" x2="134.82" y2="123.4" class="mg"/><line x1="145.35" y1="79" x2="145.35" y2="123.4" class="mg"/><line x1="155.88" y1="79" x2="155.88" y2="123.4" class="mg"/><line x1="166.41" y1="79" x2="166.41" y2="123.4" class="mg"/><line x1="187.46" y1="79" x2="187.46" y2="123.4" class="mg"/><line x1="197.99" y1="79" x2="197.99" y2="123.4" class="mg"/><line x1="208.52" y1="79" x2="208.52" y2="123.4" class="mg"/><line x1="219.05" y1="79" x2="219.05" y2="123.4" class="mg"/><line x1="240.11" y1="79" x2="240.11" y2="123.4" class="mg"/><line x1="250.64" y1="79" x2="250.64" y2="123.4" class="mg"/><line x1="261.17" y1="79" x2="261.17" y2="123.4" class="mg"/><line x1="271.7" y1="79" x2="271.7" y2="123.4" class="mg"/><line x1="292.75" y1="79" x2="292.75" y2="123.4" class="mg"/><line x1="303.28" y1="79" x2="303.28" y2="123.4" class="mg"/><line x1="313.81" y1="79" x2="313.81" y2="123.4" class="mg"/><line x1="324.34" y1="79" x2="324.34" y2="123.4" class="mg"/><line x1="345.4" y1="79" x2="345.4" y2="123.4" class="mg"/><line x1="355.93" y1="79" x2="355.93" y2="123.4" class="mg"/><line x1="366.46" y1="79" x2="366.46" y2="123.4" class="mg"/><line x1="376.99" y1="79" x2="376.99" y2="123.4" class="mg"/><line x1="398.04" y1="79" x2="398.04" y2="123.4" class="mg"/><line x1="408.57" y1="79" x2="408.57" y2="123.4" class="mg"/><line x1="419.1" y1="79" x2="419.1" y2="123.4" class="mg"/><line x1="429.63" y1="79" x2="429.63" y2="123.4" class="mg"/><line x1="450.69" y1="79" x2="450.69" y2="123.4" class="mg"/><line x1="461.22" y1="79" x2="461.22" y2="123.4" class="mg"/><line x1="471.75" y1="79" x2="471.75" y2="123.4" class="mg"/><line x1="482.28" y1="79" x2="482.28" y2="123.4" class="mg"/><line x1="503.33" y1="79" x2="503.33" y2="123.4" class="mg"/><line x1="513.86" y1="79" x2="513.86" y2="123.4" class="mg"/><line x1="524.39" y1="79" x2="524.39" y2="123.4" class="mg"/><line x1="534.92" y1="79" x2="534.92" y2="123.4" class="mg"/><line x1="19" y1="120.44" x2="545.45" y2="120.44" class="mg"/><line x1="19" y1="117.48" x2="545.45" y2="117.48" class="mg"/><line x1="19" y1="114.52" x2="545.45" y2="114.52" class="mg"/><line x1="19" y1="111.56" x2="545.45" y2="111.56" class="mg"/><line x1="19" y1="105.64" x2="545.45" y2="105.64" class="mg"/><line x1="19" y1="102.68" x2="545.45" y2="102.68" class="mg"/><line x1="19" y1="99.72" x2="545.45" y2="99.72" class="mg"/><line x1="19" y1="96.76" x2="545.45" y2="96.76" class="mg"/><line x1="19" y1="90.84" x2="545.45" y2="90.84" class="mg"/><line x1="19" y1="87.88" x2="545.45" y2="87.88" class="mg"/><line x1="19" y1="84.92" x2="545.45" y2="84.92" class="mg"/><line x1="19" y1="81.96" x2="545.45" y2="81.96" class="mg"/><line x1="71.65" y1="79" x2="71.65" y2="123.4" class="Mg"/><line x1="124.29" y1="79" x2="124.29" y2="123.4" class="Mg"/><line x1="176.94" y1="79" x2="176.94" y2="123.4" class="Mg"/><line x1="229.58" y1="79" x2="229.58" y2="123.4" class="Mg"/><line x1="282.23" y1="79" x2="282.23" y2="123.4" class="Mg"/><line x1="334.87" y1="79" x2="334.87" y2="123.4" class="Mg"/><line x1="387.52" y1="79" x2="387.52" y2="123.4" class="Mg"/><line x1="440.16" y1="79" x2="440.16" y2="123.4" class="Mg"/><line x1="492.81" y1="79" x2="492.81" y2="123.4" class="Mg"/><line x1="19" y1="108.6" x2="545.45" y2="108.6" class="Mg"/><line x1="19" y1="93.8" x2="545.45" y2="93.8" class="Mg"/><svg x="0" y="0" width="550" height="282" overflow="hidden"><clipPath id="c1"><rect x="19.0" y="79.0" width="526.45" height="44.400000000000006"/></clipPath><polyline points="19.00,115.14 19.10,114.94 19.26,115.67 19.33,116.27 19.42,117.05 19.66,118.68 19.73,119.03 19.99,120.23 20.32,121.23 20.65,122.03 20.98,122.16 21.30,122.39 21.63,122.64 21.96,122.69 22.29,122.68 22.62,122.50 22.95,122.53 23.28,122.75 23.61,122.24 23.94,122.80 24.27,122.87 24.60,122.85 24.93,122.91 25.26,122.44 25.58,122.63 25.91,122.69 26.24,122.66 26.57,122.76 26.90,122.56 27.23,122.63 27.56,122.74 27.89,122.85 28.22,122.69 28.55,122.76 28.88,122.85 29.21,122.86 29.54,122.40 29.86,122.50 30.19,122.52 30.52,122.47 30.85,122.38 31.18,122.72 31.51,122.73 31.84,122.72 32.17,122.70 32.50,122.71 32.83,122.53 33.16,122.85 33.49,122.90 33.82,122.67 34.14,122.62 34.47,122.74 34.80,122.89 35.13,122.89 35.46,122.50 35.79,122.99 36.12,122.71 36.45,122.72 36.78,122.91 37.11,122.99 37.44,122.89 37.77,122.93 38.10,122.95 38.42,122.88 38.75,122.51 39.08,122.48 39.41,122.59 39.74,122.70 40.07,122.52 40.40,122.63 40.73,122.63 41.06,122.53 41.39,122.35 41.72,122.72 42.05,122.36 42.38,122.32 42.71,122.34 43.03,122.25 43.36,122.58 43.69,122.41 44.02,122.40 44.35,122.56 44.68,122.49 45.01,122.20 45.34,122.23 45.67,122.29 46.00,122.35 46.33,122.86 46.66,122.57 46.99,122.44 47.31,122.41 47.64,122.40 47.97,122.41 48.30,122.71 48.63,122.89 48.96,122.85 49.29,122.42 49.62,122.45 49.95,122.40 50.28,122.40 50.61,122.67 50.94,122.37 51.27,122.72 51.59,122.70 51.92,122.30 52.25,122.35 52.58,122.68 52.91,122.85 53.24,122.87 53.57,122.58 53.90,122.48 54.23,122.66 54.56,122.80 54.89,122.91 55.22,122.76 55.55,122.39 55.87,122.63 56.20,122.65 56.53,122.10 56.86,122.35 57.07,122.11 57.19,121.93 57.34,121.66 57.47,121.43 57.52,121.38 57.60,121.36 57.73,121.50 57.85,121.63 57.86,121.63 58.13,121.59 58.18,121.65 58.51,122.01 58.84,122.42 59.17,122.66 59.50,122.76 59.83,122.35 60.15,122.14 60.48,122.25 60.81,122.10 61.14,121.91 61.47,121.99 61.80,122.23 62.13,122.25 62.46,122.09 62.79,121.74 63.12,121.71 63.45,120.74 63.78,117.58 63.98,113.35 64.11,109.56 64.19,106.62 64.29,103.13 64.40,101.58 64.43,101.77 64.51,103.17 64.61,106.69 64.76,111.84 64.82,113.41 65.09,118.46 65.42,120.96 65.75,121.38 66.08,122.14 66.41,122.20 66.74,122.15 67.07,122.13 67.40,122.52 67.73,122.77 68.06,122.79 68.39,122.77 68.71,122.88 69.04,122.83 69.37,122.85 69.70,122.82 70.03,122.71 70.36,122.70 70.69,122.66 71.02,122.57 71.35,122.49 71.68,122.49 72.01,122.48 72.34,122.66 72.67,122.64 72.99,122.52 73.32,122.59 73.65,122.87 73.98,122.73 74.31,122.64 74.64,122.76 74.97,122.51 75.30,122.47 75.63,122.62 75.96,122.81 76.29,122.69 76.62,122.68 76.95,122.75 77.27,122.85 77.60,122.98 77.93,122.98 78.26,122.41 78.59,122.37 78.92,122.51 79.25,122.69 79.58,122.53 79.91,122.72 80.24,122.70 80.57,122.47 80.90,122.31 81.23,122.42 81.56,122.57 81.88,122.59 82.21,122.29 82.54,122.33 82.87,122.80 83.20,122.87 83.53,122.71 83.86,122.68 84.19,122.80 84.52,122.66 84.85,122.65 85.18,122.89 85.51,122.47 85.84,122.39 86.16,122.64 86.49,122.89 86.82,122.49 87.15,122.78 87.48,122.62 87.81,122.50 88.14,122.45 88.47,122.23 88.80,122.30 89.13,122.43 89.46,122.45 89.79,122.22 90.12,122.72 90.44,122.51 90.77,122.51 91.10,122.67 91.43,122.79 91.76,122.81 92.09,122.83 92.42,122.73 92.75,122.43 93.08,122.92 93.41,122.86 93.74,122.84 94.07,122.86 94.40,122.89 94.72,122.50 95.05,122.53 95.38,122.55 95.71,122.50 96.04,122.34 96.37,122.60 96.70,122.81 97.03,122.95 97.36,122.85 97.69,122.63 98.02,122.51 98.35,122.40 98.68,122.33 99.00,122.60 99.33,122.77 99.66,122.64 99.99,122.45 100.32,122.24 100.65,122.61 100.98,122.21 101.31,121.86 101.47,121.66 101.64,121.41 101.74,121.29 101.87,121.15 101.97,121.08 102.00,121.07 102.13,121.20 102.26,121.48 102.30,121.55 102.53,122.03 102.63,122.25 102.96,122.63 103.28,122.75 103.61,122.84 103.94,122.53 104.27,122.41 104.60,122.33 104.93,122.15 105.26,122.40 105.59,122.22 105.92,122.23 106.25,122.51 106.58,122.65 106.91,122.64 107.24,122.49 107.56,122.26 107.89,121.95 108.22,121.37 108.55,121.26 108.88,120.40 109.21,117.37 109.54,108.52 109.58,106.92 109.79,95.71 109.87,91.10 109.89,89.84 110.00,87.19 110.11,89.83 110.20,95.00 110.21,95.73 110.42,107.03 110.53,111.15 110.86,118.35 111.19,120.20 111.52,120.85 111.84,121.36 112.17,121.75 112.50,121.81 112.83,122.32 113.16,122.57 113.49,122.65 113.82,122.52 114.15,122.13 114.48,122.39 114.81,122.54 115.14,122.63 115.47,122.61 115.80,122.47 116.12,121.98 116.45,121.01 116.47,120.92 116.74,119.58 116.78,119.36 116.87,119.00 117.00,118.75 117.11,118.96 117.13,119.02 117.26,119.64 117.44,120.52 117.53,120.85 117.77,121.52 118.10,122.08 118.43,122.60 118.76,122.28 119.09,122.60 119.42,122.66 119.75,122.58 120.08,122.92 120.41,122.37 120.73,122.63 121.06,122.78 121.39,122.53 121.72,122.49 122.05,122.50 122.38,122.49 122.71,122.51 123.04,122.71 123.37,122.43 123.70,122.34 124.03,122.37 124.36,122.52 124.69,122.27 125.01,122.35 125.34,122.66 125.67,122.87 126.00,122.50 126.33,122.89 126.66,122.62 126.99,122.56 127.32,122.64 127.65,122.27 127.98,122.69 128.31,122.35 128.64,122.31 128.97,122.90 129.29,122.92 129.62,122.96 129.95,122.94 130.28,122.82 130.61,122.26 130.94,122.36 131.27,122.33 131.60,122.45 131.93,122.81 132.26,122.44 132.59,122.32 132.92,122.24 133.25,122.30 133.57,122.66 133.90,122.25 134.23,122.36 134.56,122.45 134.89,122.50 135.22,122.77 135.55,122.71 135.88,122.56 136.21,122.47 136.54,122.61 136.87,122.63 137.20,122.40 137.53,122.44 137.85,122.64 138.18,122.34 138.51,122.86 138.84,122.71 139.17,122.51 139.50,122.40 139.83,122.83 140.16,122.32 140.49,122.10 140.82,122.16 141.15,122.18 141.48,122.34 141.81,122.63 142.13,122.60 142.46,122.21 142.79,122.66 143.12,122.67 143.45,122.50 143.78,122.46 144.11,122.77 144.44,122.80 144.77,122.49 145.10,122.52 145.43,122.81 145.76,122.50 146.09,122.26 146.41,122.35 146.74,122.30 147.07,121.82 147.07,121.82 147.34,121.42 147.40,121.31 147.47,121.22 147.60,121.26 147.73,121.58 147.86,121.90 148.06,122.21 148.13,122.30 148.39,122.48 148.72,122.10 149.05,121.88 149.38,121.88 149.71,122.13 150.04,122.27 150.37,122.41 150.69,122.14 151.02,122.12 151.35,122.17 151.68,122.10 152.01,121.93 152.34,122.25 152.67,122.18 153.00,121.66 153.33,121.48 153.66,121.35 153.99,120.30 154.32,117.65 154.65,111.61 154.77,107.99 154.97,100.28 155.04,97.49 155.17,91.94 155.30,89.44 155.30,89.44 155.43,91.92 155.56,97.49 155.63,100.70 155.83,108.25 155.96,112.09 156.29,117.54 156.62,119.75 156.95,120.61 157.28,120.98 157.61,121.46 157.94,121.68 158.27,122.24 158.60,122.46 158.93,122.48 159.26,122.26 159.58,122.11 159.91,122.44 160.24,122.63 160.57,122.58 160.90,122.27 161.23,122.21 161.56,121.84 161.87,121.01 161.89,120.95 162.14,119.93 162.22,119.58 162.27,119.38 162.40,119.07 162.53,119.29 162.55,119.34 162.66,119.87 162.88,120.67 162.93,120.81 163.21,121.68 163.54,122.38 163.86,122.14 164.19,122.68 164.52,122.74 164.85,122.64 165.18,122.43 165.51,122.90 165.84,122.76 166.17,122.76 166.50,122.84 166.83,122.79 167.16,122.37 167.49,122.64 167.82,122.75 168.14,122.44 168.47,122.31 168.80,122.69 169.13,122.60 169.46,122.41 169.79,122.75 170.12,122.45 170.45,122.51 170.78,122.62 171.11,122.71 171.44,122.34 171.77,122.46 172.10,122.62 172.42,122.72 172.75,122.58 173.08,122.77 173.41,122.78 173.74,122.61 174.07,122.30 174.40,122.28 174.73,122.80 175.06,122.56 175.39,122.35 175.72,122.48 176.05,122.97 176.38,122.92 176.70,122.80 177.03,122.61 177.36,122.31 177.69,122.30 178.02,122.56 178.35,122.65 178.68,122.43 179.01,121.92 179.34,122.10 179.67,122.16 180.00,122.24 180.33,122.40 180.66,122.36 180.98,122.31 181.31,122.30 181.64,122.36 181.97,122.96 182.30,122.87 182.63,122.87 182.96,122.82 183.29,122.55 183.62,122.69 183.95,122.42 184.28,122.40 184.61,122.54 184.94,122.54 185.26,122.50 185.59,122.70 185.92,122.71 186.25,122.34 186.58,122.36 186.91,122.38 187.24,122.40 187.57,122.48 187.90,122.87 188.23,122.95 188.56,122.81 188.89,122.64 189.22,122.49 189.54,122.84 189.87,122.44 190.20,122.35 190.53,122.37 190.86,122.47 191.19,122.61 191.52,122.79 191.85,122.69 192.18,122.42 192.51,122.84 192.84,122.63 193.17,122.48 193.50,122.41 193.82,122.49 194.15,122.76 194.48,122.40 194.81,122.44 195.14,122.66 195.47,122.58 195.80,122.55 196.13,122.41 196.46,122.45 196.79,122.75 197.12,122.29 197.45,122.31 197.78,122.15 198.10,121.97 198.43,122.07 198.76,121.68 199.09,120.99 199.42,120.03 199.75,117.79 200.07,111.67 200.08,111.50 200.34,103.96 200.41,101.61 200.47,99.93 200.60,98.11 200.73,100.00 200.74,100.20 200.86,104.17 201.07,110.55 201.13,112.04 201.40,117.02 201.73,120.07 202.06,120.99 202.39,121.58 202.71,122.09 203.04,121.76 203.37,122.16 203.70,122.38 204.03,122.41 204.36,122.18 204.69,122.34 205.02,122.18 205.35,122.37 205.68,122.58 206.01,122.14 206.34,122.40 206.67,122.26 206.99,121.81 207.17,121.31 207.32,120.81 207.44,120.40 207.57,119.95 207.65,119.77 207.70,119.74 207.83,119.98 207.96,120.49 207.98,120.57 208.23,121.40 208.31,121.57 208.64,122.02 208.97,122.17 209.30,122.50 209.63,122.52 209.96,122.46 210.29,122.38 210.62,122.77 210.95,122.29 211.27,122.62 211.60,122.89 211.93,122.69 212.26,122.37 212.59,122.69 212.92,122.78 213.25,122.75 213.58,122.86 213.91,122.32 214.24,122.30 214.57,122.49 214.90,122.90 215.23,122.57 215.55,122.77 215.88,122.84 216.21,122.80 216.54,122.65 216.87,122.38 217.20,122.50 217.53,122.63 217.86,122.75 218.19,122.56 218.52,122.87 218.85,122.83 219.18,122.78 219.51,122.92 219.83,122.42 220.16,122.63 220.49,122.62 220.82,122.50 221.15,122.75 221.48,122.70 221.81,122.63 222.14,122.64 222.47,122.81 222.80,122.60 223.13,122.47 223.46,122.66 223.79,122.94 224.11,122.86 224.44,122.98 224.77,122.77 225.10,122.72 225.43,122.90 225.76,122.62 226.09,122.83 226.42,122.75 226.75,122.64 227.08,122.78 227.41,122.46 227.74,122.40 228.07,122.35 228.39,122.30 228.72,122.63 229.05,122.35 229.38,122.29 229.71,122.35 230.04,122.58 230.37,122.13 230.70,122.15 231.03,122.40 231.36,122.66 231.69,122.17 232.02,122.02 232.35,121.88 232.67,122.01 233.00,122.18 233.33,122.61 233.66,122.36 233.99,122.34 234.32,122.47 234.65,122.81 234.98,122.29 235.31,122.36 235.64,122.59 235.97,122.93 236.30,122.95 236.63,122.86 236.95,122.65 237.28,122.47 237.61,122.43 237.94,122.28 238.27,122.29 238.60,122.49 238.93,122.80 239.26,122.80 239.59,122.87 239.92,122.74 240.25,122.63 240.58,122.60 240.91,122.62 241.23,122.36 241.56,122.33 241.89,122.38 242.22,122.23 242.55,122.15 242.88,122.15 243.21,122.18 243.54,122.23 243.87,122.20 244.20,121.97 244.53,121.72 244.86,121.27 245.19,120.11 245.52,117.44 245.84,112.16 245.87,111.51 246.14,103.87 246.17,102.68 246.27,99.93 246.40,98.20 246.50,99.35 246.53,100.02 246.66,104.03 246.83,109.31 246.93,111.80 247.16,116.33 247.49,119.78 247.82,121.27 248.15,121.85 248.48,121.89 248.81,121.78 249.14,121.84 249.47,122.03 249.80,122.46 250.12,121.90 250.45,121.96 250.78,122.11 251.11,122.25 251.44,122.69 251.77,122.51 252.10,122.40 252.43,122.23 252.76,121.76 253.09,121.10 253.17,120.76 253.42,119.14 253.44,118.98 253.57,118.09 253.70,117.74 253.75,117.79 253.83,118.11 253.96,118.90 254.08,119.61 254.23,120.41 254.40,121.10 254.73,121.92 255.06,122.23 255.39,122.40 255.72,122.73 256.05,122.28 256.38,122.26 256.71,122.27 257.04,122.30 257.37,122.37 257.70,122.71 258.03,122.75 258.36,122.78 258.68,122.91 259.01,122.40 259.34,122.34 259.67,122.31 260.00,122.31 260.33,122.53 260.66,122.39 260.99,122.36 261.32,122.50 261.65,122.88 261.98,122.92 262.31,122.44 262.64,122.28 262.96,122.27 263.29,122.42 263.62,122.47 263.95,122.57 264.28,122.46 264.61,122.19 264.94,122.41 265.27,122.21 265.60,121.77 265.93,122.00 266.26,122.68 266.59,122.33 266.92,122.40 267.24,122.60 267.57,122.83 267.90,122.62 268.23,122.73 268.56,122.52 268.89,122.36 269.22,122.39 269.55,122.70 269.88,122.80 270.21,122.76 270.54,122.66 270.87,122.58 271.20,122.45 271.52,122.24 271.85,122.23 272.18,122.45 272.51,122.36 272.84,121.72 272.97,121.50 273.17,121.31 273.28,121.24 273.44,121.11 273.50,121.06 273.60,120.99 273.76,121.05 273.83,121.15 273.92,121.31 274.16,121.72 274.23,121.82 274.49,122.12 274.82,122.25 275.15,122.26 275.48,122.72 275.80,122.38 276.13,122.58 276.46,122.74 276.79,122.57 277.12,122.52 277.45,122.53 277.78,122.67 278.11,122.83 278.44,122.60 278.77,122.72 279.10,122.73 279.43,122.70 279.76,122.62 280.08,122.63 280.41,122.75 280.74,122.61 281.07,122.38 281.40,122.23 281.73,122.21 282.06,122.58 282.39,122.75 282.72,122.71 283.05,122.58 283.38,122.46 283.71,122.38 284.04,122.35 284.37,122.40 284.69,122.45 285.02,122.17 285.35,122.06 285.68,122.06 286.01,122.14 286.34,122.46 286.67,122.25 287.00,122.18 287.33,122.51 287.66,121.81 287.99,121.84 288.32,121.70 288.65,121.52 288.97,121.65 289.30,121.18 289.63,120.96 289.96,120.21 290.29,118.64 290.62,116.97 290.95,113.50 291.16,110.26 291.28,107.87 291.58,100.77 291.61,100.02 291.79,95.72 291.94,93.69 292.00,93.49 292.21,95.74 292.27,96.90 292.42,100.59 292.60,104.71 292.84,109.68 292.93,111.10 293.25,115.41 293.58,117.99 293.91,119.43 294.24,120.65 294.57,121.44 294.90,121.72 295.23,121.79 295.56,122.01 295.89,122.00 296.22,121.86 296.55,121.76 296.88,122.09 297.21,121.88 297.53,121.54 297.86,120.88 298.19,119.17 298.27,118.47 298.52,115.42 298.54,115.22 298.67,113.56 298.80,112.83 298.85,112.96 298.93,113.57 299.06,115.22 299.18,116.70 299.33,118.14 299.51,119.51 299.84,120.82 300.17,121.89 300.50,122.29 300.83,122.22 301.16,122.32 301.49,122.28 301.81,122.48 302.14,122.57 302.47,122.12 302.80,122.61 303.13,122.49 303.46,122.49 303.79,122.57 304.12,122.48 304.45,122.28 304.78,122.37 305.11,122.51 305.44,122.65 305.77,122.23 306.09,122.66 306.42,122.55 306.75,122.25 307.08,122.44 307.41,122.73 307.74,122.41 308.07,122.24 308.40,122.32 308.73,122.57 309.06,122.39 309.39,122.61 309.72,122.86 310.05,122.75 310.37,122.61 310.70,122.36 311.03,122.40 311.36,122.64 311.69,122.22 312.02,122.48 312.35,122.47 312.68,122.41 313.01,122.39 313.34,122.84 313.67,122.43 314.00,122.37 314.33,122.55 314.65,122.86 314.98,122.84 315.31,122.55 315.64,122.41 315.97,122.52 316.30,122.27 316.63,122.30 316.96,122.41 317.29,122.55 317.62,122.63 317.95,122.40 318.28,122.27 318.61,122.37 318.93,122.70 319.26,122.55 319.59,122.79 319.92,122.87 320.25,122.89 320.58,122.87 320.91,122.65 321.24,122.51 321.57,122.38 321.90,122.27 322.23,122.34 322.56,122.20 322.89,122.47 323.22,122.58 323.54,122.25 323.87,122.61 324.20,122.59 324.53,122.51 324.86,122.39 325.19,122.08 325.52,122.42 325.85,122.63 326.18,122.66 326.51,122.46 326.84,122.29 327.17,122.18 327.50,122.29 327.82,122.39 328.15,122.19 328.48,122.09 328.75,121.80 328.81,121.68 329.14,121.31 329.27,121.20 329.47,121.00 329.54,120.94 329.80,120.82 329.80,120.82 330.06,120.77 330.13,120.77 330.33,120.85 330.46,120.87 330.79,121.11 330.85,121.18 331.12,121.40 331.45,121.42 331.78,121.62 332.10,121.51 332.43,121.26 332.76,121.67 333.09,121.54 333.42,121.31 333.75,120.95 334.08,120.39 334.39,120.06 334.41,120.04 334.74,119.52 335.07,118.85 335.40,117.85 335.45,117.59 335.73,116.03 335.97,115.03 336.06,114.60 336.38,111.35 336.50,109.76 336.71,106.18 336.82,104.00 337.03,98.55 337.04,98.09 337.16,94.78 337.33,90.23 337.37,89.37 337.50,88.25 337.55,88.55 337.67,90.74 337.70,91.57 337.84,96.14 338.03,102.21 338.18,106.33 338.36,110.18 338.61,114.25 338.69,115.23 339.02,117.56 339.35,119.42 339.68,120.27 340.01,120.50 340.34,120.71 340.66,121.14 340.99,121.21 341.32,121.20 341.65,121.17 341.98,121.23 342.31,121.54 342.64,121.61 342.97,121.44 343.30,121.08 343.63,120.53 343.96,119.11 344.07,118.28 344.29,115.84 344.34,115.15 344.47,113.48 344.60,112.74 344.62,112.74 344.73,113.38 344.86,114.89 344.94,115.92 345.13,118.08 345.27,119.50 345.60,121.20 345.93,121.80 346.26,121.61 346.59,122.08 346.92,121.96 347.25,121.94 347.58,122.06 347.91,122.13 348.24,122.39 348.57,122.53 348.90,122.65 349.22,122.76 349.55,122.67 349.88,122.53 350.21,122.45 350.54,122.45 350.87,122.76 351.20,122.57 351.53,122.59 351.86,122.53 352.19,122.27 352.52,122.68 352.85,122.38 353.18,122.36 353.50,122.41 353.83,122.23 354.16,122.68 354.49,122.73 354.82,122.68 355.15,122.59 355.48,122.74 355.81,122.54 356.14,122.37 356.47,122.30 356.80,122.56 357.13,122.79 357.46,122.88 357.78,122.76 358.11,122.50 358.44,122.63 358.77,122.90 359.10,122.80 359.43,122.61 359.76,122.37 360.09,122.49 360.42,122.66 360.75,122.52 361.08,122.25 361.41,122.24 361.74,122.87 362.06,122.85 362.39,122.72 362.72,122.52 363.05,122.71 363.38,122.79 363.71,122.60 364.04,122.36 364.37,122.30 364.70,122.58 365.03,122.37 365.36,122.35 365.69,122.54 366.02,122.50 366.35,122.57 366.67,122.47 367.00,122.36 367.33,122.30 367.66,122.57 367.99,122.60 368.32,122.51 368.65,122.36 368.98,122.32 369.31,122.42 369.64,122.62 369.97,122.79 370.30,122.82 370.63,122.67 370.95,122.84 371.28,122.80 371.61,122.67 371.94,122.66 372.27,122.81 372.60,122.81 372.93,122.69 373.26,122.42 373.59,122.24 373.92,122.63 374.25,122.53 374.58,122.37 374.91,122.55 375.23,122.81 375.56,122.34 375.89,122.33 376.22,122.67 376.55,122.40 376.88,122.66 377.21,122.56 377.54,122.41 377.87,122.31 378.20,122.22 378.53,122.04 378.86,121.74 379.19,121.36 379.51,121.27 379.84,120.87 380.17,119.93 380.50,118.71 380.83,117.18 380.95,116.37 381.16,114.61 381.47,111.84 381.49,111.69 381.74,109.47 381.82,108.87 382.00,108.23 382.15,108.65 382.26,109.55 382.48,111.66 382.53,112.13 382.81,114.69 383.05,116.43 383.14,116.86 383.47,118.52 383.79,119.76 384.12,120.83 384.45,121.54 384.78,121.66 385.11,121.66 385.44,121.89 385.77,121.63 386.10,121.73 386.43,121.83 386.76,121.92 387.09,121.95 387.42,122.43 387.75,122.22 388.07,122.11 388.40,122.38 388.73,121.50 389.06,121.05 389.39,119.74 389.57,118.42 389.72,116.95 389.84,115.56 389.97,114.05 390.05,113.48 390.10,113.38 390.23,114.06 390.36,115.56 390.38,115.76 390.63,118.43 390.71,119.10 391.04,120.80 391.37,121.51 391.70,122.43 392.03,122.57 392.35,122.43 392.68,122.33 393.01,122.72 393.34,122.28 393.67,122.47 394.00,122.49 394.33,122.38 394.66,122.83 394.99,122.56 395.32,122.45 395.65,122.40 395.98,122.40 396.31,122.79 396.63,122.78 396.96,122.59 397.29,122.33 397.62,122.38 397.95,122.56 398.28,122.80 398.61,122.82 398.94,122.44 399.27,122.41 399.60,122.47 399.93,122.38 400.26,122.29 400.59,122.51 400.91,122.38 401.24,122.65 401.57,122.78 401.90,122.73 402.23,122.26 402.56,122.24 402.89,122.58 403.22,122.82 403.55,122.51 403.88,122.47 404.21,122.50 404.54,122.58 404.87,122.68 405.19,122.70 405.52,122.33 405.85,122.60 406.18,122.84 406.51,122.84 406.84,122.36 407.17,122.72 407.50,122.67 407.83,122.38 408.16,122.05 408.49,121.67 408.82,121.80 409.15,122.12 409.48,122.17 409.80,122.29 410.13,122.27 410.46,122.41 410.79,122.51 411.12,122.25 411.45,122.59 411.78,122.39 412.11,122.41 412.44,122.65 412.77,122.43 413.10,122.70 413.43,122.62 413.76,122.48 414.08,122.41 414.41,122.88 414.74,122.45 415.07,122.42 415.40,122.80 415.73,122.37 416.06,122.80 416.39,122.81 416.72,122.77 417.05,122.73 417.38,122.76 417.71,122.56 418.04,122.58 418.36,122.61 418.69,122.28 419.02,122.56 419.35,122.43 419.68,122.45 420.01,122.68 420.34,122.54 420.67,122.50 421.00,122.57 421.33,122.59 421.66,122.32 421.99,122.42 422.32,122.45 422.64,122.42 422.97,122.38 423.30,122.66 423.63,122.57 423.96,122.30 424.29,122.11 424.62,122.17 424.95,122.26 425.28,121.87 425.61,121.65 425.94,121.46 426.27,121.20 426.60,120.88 426.92,119.61 427.25,117.65 427.26,117.62 427.58,114.86 427.68,113.89 427.89,111.87 427.91,111.70 428.10,111.05 428.24,111.55 428.31,112.04 428.52,113.94 428.57,114.40 428.90,117.17 428.94,117.43 429.23,118.89 429.56,120.66 429.89,121.42 430.22,121.63 430.55,121.38 430.88,121.48 431.20,121.77 431.53,122.09 431.86,122.17 432.19,121.91 432.52,122.32 432.85,122.12 433.18,121.87 433.51,121.58 433.84,121.43 434.17,121.03 434.50,119.70 434.83,116.23 434.97,113.40 435.16,109.00 435.24,106.78 435.37,103.43 435.48,101.96 435.50,101.94 435.63,103.48 435.76,106.93 435.81,108.36 436.03,113.51 436.14,115.71 436.47,119.54 436.80,121.13 437.13,121.36 437.46,121.64 437.79,121.82 438.12,121.95 438.45,122.38 438.78,122.15 439.11,121.99 439.44,121.72 439.47,121.67 439.74,121.27 439.76,121.23 439.87,121.12 440.00,121.10 440.09,121.19 440.13,121.24 440.26,121.51 440.42,122.03 440.53,122.29 440.75,122.54 441.08,122.70 441.41,122.63 441.74,122.34 442.07,122.49 442.40,122.71 442.73,122.88 443.06,122.60 443.39,122.76 443.72,122.75 444.04,122.62 444.37,122.43 444.70,122.57 445.03,122.57 445.36,122.57 445.69,122.57 446.02,122.26 446.35,122.28 446.68,122.43 447.01,122.64 447.34,122.89 447.67,122.49 448.00,122.73 448.33,122.91 448.65,122.97 448.98,122.91 449.31,122.70 449.64,122.50 449.97,122.40 450.30,122.61 450.63,122.42 450.96,122.54 451.29,122.54 451.62,122.46 451.95,122.60 452.28,122.46 452.61,122.60 452.93,122.73 453.26,122.77 453.59,122.40 453.92,122.39 454.25,122.38 454.58,122.38 454.91,122.42 455.24,122.32 455.57,122.44 455.90,122.51 456.23,122.47 456.56,122.46 456.89,122.63 457.21,122.80 457.54,122.83 457.87,122.32 458.20,122.31 458.53,122.59 458.86,122.69 459.19,122.65 459.52,122.87 459.85,122.34 460.18,122.59 460.51,122.81 460.84,122.60 461.17,122.87 461.49,122.40 461.82,122.24 462.15,122.24 462.48,122.07 462.81,122.01 463.14,121.82 463.47,121.83 463.80,121.92 464.13,122.61 464.46,122.59 464.79,122.65 465.12,122.70 465.45,122.48 465.77,122.75 466.10,122.50 466.43,122.35 466.76,122.35 467.09,122.25 467.42,122.17 467.75,122.42 468.08,122.66 468.41,122.63 468.74,122.30 469.07,122.18 469.40,122.03 469.73,121.87 470.05,121.98 470.38,121.39 470.71,121.19 471.04,120.80 471.37,119.91 471.70,118.19 472.03,115.44 472.26,112.78 472.36,111.38 472.68,105.89 472.69,105.70 472.89,102.10 473.02,100.65 473.10,100.38 473.31,102.19 473.35,102.76 473.52,105.84 473.68,108.76 473.94,113.09 474.01,113.95 474.33,117.37 474.66,119.07 474.99,120.22 475.32,121.09 475.65,121.64 475.98,121.63 476.31,122.06 476.64,122.00 476.97,121.89 477.30,121.76 477.63,121.87 477.96,122.26 478.29,122.40 478.61,122.42 478.94,122.24 479.27,121.90 479.60,121.71 479.93,120.99 480.26,119.18 480.47,117.06 480.59,115.48 480.74,113.01 480.87,110.80 480.92,110.19 481.00,109.79 481.13,110.80 481.25,112.81 481.26,113.08 481.53,117.20 481.58,117.79 481.91,120.35 482.24,121.56 482.57,121.91 482.89,122.22 483.22,122.47 483.55,122.32 483.88,122.38 484.21,122.28 484.54,122.30 484.87,122.43 485.20,122.20 485.53,122.56 485.86,122.60 486.19,122.58 486.52,122.67 486.85,122.91 487.18,122.56 487.50,122.41 487.83,122.41 488.16,122.24 488.49,122.83 488.82,122.59 489.15,122.34 489.48,122.39 489.81,122.31 490.14,122.73 490.47,122.83 490.80,122.74 491.13,122.43 491.46,122.47 491.78,122.74 492.11,122.92 492.44,122.92 492.77,122.28 493.10,122.42 493.43,122.57 493.76,122.70 494.09,122.64 494.42,122.85 494.75,122.80 495.08,122.61 495.41,122.33 495.74,122.92 496.06,122.40 496.39,122.36 496.72,122.48 497.05,122.71 497.38,122.44 497.71,122.54 498.04,122.56 498.37,122.52 498.70,122.57 499.03,122.67 499.36,122.45 499.69,122.32 500.02,122.43 500.34,122.69 500.67,122.62 501.00,122.68 501.33,122.80 501.66,122.89 501.99,122.79 502.32,122.51 502.65,122.50 502.98,122.82 503.31,122.79 503.64,122.93 503.97,122.61 504.30,122.36 504.62,122.79 504.95,122.84 505.28,122.57 505.61,122.61 505.94,122.86 506.27,122.38 506.60,122.43 506.93,122.72 507.26,122.81 507.59,122.39 507.92,122.79 508.25,122.87 508.58,122.68 508.90,122.38 509.23,122.26 509.56,122.63 509.89,122.70 510.22,122.67 510.55,122.54 510.88,122.34 511.21,122.22 511.54,122.28 511.87,122.42 512.20,122.59 512.53,122.51 512.86,122.29 513.18,122.32 513.51,122.58 513.84,122.48 514.17,122.55 514.50,122.21 514.83,121.90 515.16,121.92 515.49,122.17 515.82,121.70 516.15,121.25 516.48,120.83 516.81,120.80 517.14,120.01 517.46,118.63 517.76,116.60 517.79,116.25 518.12,112.58 518.18,111.97 518.39,109.91 518.45,109.45 518.60,108.90 518.78,109.49 518.81,109.71 519.02,111.99 519.11,113.14 519.44,116.58 519.44,116.59 519.77,118.57 520.10,119.82 520.43,120.87 520.76,121.54 521.09,121.93 521.42,121.60 521.74,121.63 522.07,121.87 522.40,122.04 522.73,121.74 523.06,121.63 523.39,121.57 523.72,121.48 524.05,121.37 524.38,121.35 524.71,120.82 525.04,119.59 525.37,116.95 525.67,112.46 525.70,111.92 525.98,104.98 526.03,103.88 526.14,101.06 526.30,99.35 526.35,99.59 526.46,101.14 526.62,105.07 526.68,106.90 526.93,112.63 527.01,114.04 527.34,117.93 527.67,120.15 528.00,120.82 528.33,121.07 528.66,121.30 528.99,120.86 529.32,121.20 529.65,121.72 529.98,122.09 530.31,121.96 530.63,122.11 530.96,121.98 531.29,121.95 531.62,122.07 531.95,122.26 532.28,122.07 532.61,121.56 532.94,121.28 533.27,121.82 533.60,122.30 533.93,122.19 534.26,122.30 534.59,122.56 534.91,122.43 535.24,122.51 535.57,122.38 535.90,122.40 536.23,122.71 536.56,122.63 536.89,122.70 537.22,122.63 537.55,122.51 537.88,122.53 538.21,122.34 538.54,122.42 538.87,122.62 539.19,122.94 539.52,122.42 539.85,122.36 540.18,122.32 540.51,122.38 540.84,122.81 541.17,122.56 541.50,122.74 541.83,122.71 542.16,122.46 542.49,122.33 542.82,122.25 543.15,122.43 543.47,122.57 543.80,122.57 544.13,122.76 544.46,122.88 544.79,122.83 545.12,122.70 545.45,122.87" fill="none" stroke="#0072BD" stroke-width="0.5" stroke-opacity="1" stroke-linejoin="round" clip-path="url(#c1)"/></svg><rect x="19.0" y="79.0" width="526.45" height="44.4" fill="none" stroke="#4a4a4a" stroke-width="0.6" class="ax"/><line x1="19" y1="123.4" x2="19" y2="118.9" class="tk"/><line x1="19" y1="79" x2="19" y2="83.5" class="tk"/><text transform="translate(19,131.1) scale(1,1.1)" class="tl" text-anchor="middle">0</text><line x1="71.65" y1="123.4" x2="71.65" y2="118.9" class="tk"/><line x1="71.65" y1="79" x2="71.65" y2="83.5" class="tk"/><text transform="translate(71.65,131.1) scale(1,1.1)" class="tl" text-anchor="middle">0.5</text><line x1="124.29" y1="123.4" x2="124.29" y2="118.9" class="tk"/><line x1="124.29" y1="79" x2="124.29" y2="83.5" class="tk"/><text transform="translate(124.29,131.1) scale(1,1.1)" class="tl" text-anchor="middle">1</text><line x1="176.94" y1="123.4" x2="176.94" y2="118.9" class="tk"/><line x1="176.94" y1="79" x2="176.94" y2="83.5" class="tk"/><text transform="translate(176.94,131.1) scale(1,1.1)" class="tl" text-anchor="middle">1.5</text><line x1="229.58" y1="123.4" x2="229.58" y2="118.9" class="tk"/><line x1="229.58" y1="79" x2="229.58" y2="83.5" class="tk"/><text transform="translate(229.58,131.1) scale(1,1.1)" class="tl" text-anchor="middle">2</text><line x1="282.23" y1="123.4" x2="282.23" y2="118.9" class="tk"/><line x1="282.23" y1="79" x2="282.23" y2="83.5" class="tk"/><text transform="translate(282.23,131.1) scale(1,1.1)" class="tl" text-anchor="middle">2.5</text><line x1="334.87" y1="123.4" x2="334.87" y2="118.9" class="tk"/><line x1="334.87" y1="79" x2="334.87" y2="83.5" class="tk"/><text transform="translate(334.87,131.1) scale(1,1.1)" class="tl" text-anchor="middle">3</text><line x1="387.52" y1="123.4" x2="387.52" y2="118.9" class="tk"/><line x1="387.52" y1="79" x2="387.52" y2="83.5" class="tk"/><text transform="translate(387.52,131.1) scale(1,1.1)" class="tl" text-anchor="middle">3.5</text><line x1="440.16" y1="123.4" x2="440.16" y2="118.9" class="tk"/><line x1="440.16" y1="79" x2="440.16" y2="83.5" class="tk"/><text transform="translate(440.16,131.1) scale(1,1.1)" class="tl" text-anchor="middle">4</text><line x1="492.81" y1="123.4" x2="492.81" y2="118.9" class="tk"/><line x1="492.81" y1="79" x2="492.81" y2="83.5" class="tk"/><text transform="translate(492.81,131.1) scale(1,1.1)" class="tl" text-anchor="middle">4.5</text><line x1="545.45" y1="123.4" x2="545.45" y2="118.9" class="tk"/><line x1="545.45" y1="79" x2="545.45" y2="83.5" class="tk"/><text transform="translate(545.45,131.1) scale(1,1.1)" class="tl" text-anchor="middle">5</text><line x1="19" y1="123.4" x2="23.5" y2="123.4" class="tk"/><line x1="545.45" y1="123.4" x2="540.95" y2="123.4" class="tk"/><text transform="translate(17.3,126.1) scale(1,1.1)" class="tl" text-anchor="end">0</text><line x1="19" y1="108.6" x2="23.5" y2="108.6" class="tk"/><line x1="545.45" y1="108.6" x2="540.95" y2="108.6" class="tk"/><text transform="translate(17.3,111.3) scale(1,1.1)" class="tl" text-anchor="end">0.5</text><line x1="19" y1="93.8" x2="23.5" y2="93.8" class="tk"/><line x1="545.45" y1="93.8" x2="540.95" y2="93.8" class="tk"/><text transform="translate(17.3,96.5) scale(1,1.1)" class="tl" text-anchor="end">1</text><line x1="19" y1="79" x2="23.5" y2="79" class="tk"/><line x1="545.45" y1="79" x2="540.95" y2="79" class="tk"/><text transform="translate(17.3,81.7) scale(1,1.1)" class="tl" text-anchor="end">1.5</text><text transform="translate(282.23,138) scale(1,1.1)" class="lb" text-anchor="middle">Frequency (Hz)</text><text transform="translate(7.2,101.2) rotate(-90)" x="0" y="0" class="yl" text-anchor="middle">Pressure (mmHg)</text><text transform="translate(282.23,76.8) scale(1,1.05)" class="tt" text-anchor="middle">FFT plot of Pressure Upper Circulation</text><line x1="29.53" y1="148.45" x2="29.53" y2="193.2" class="mg"/><line x1="40.06" y1="148.45" x2="40.06" y2="193.2" class="mg"/><line x1="50.59" y1="148.45" x2="50.59" y2="193.2" class="mg"/><line x1="61.12" y1="148.45" x2="61.12" y2="193.2" class="mg"/><line x1="82.17" y1="148.45" x2="82.17" y2="193.2" class="mg"/><line x1="92.7" y1="148.45" x2="92.7" y2="193.2" class="mg"/><line x1="103.23" y1="148.45" x2="103.23" y2="193.2" class="mg"/><line x1="113.76" y1="148.45" x2="113.76" y2="193.2" class="mg"/><line x1="134.82" y1="148.45" x2="134.82" y2="193.2" class="mg"/><line x1="145.35" y1="148.45" x2="145.35" y2="193.2" class="mg"/><line x1="155.88" y1="148.45" x2="155.88" y2="193.2" class="mg"/><line x1="166.41" y1="148.45" x2="166.41" y2="193.2" class="mg"/><line x1="187.46" y1="148.45" x2="187.46" y2="193.2" class="mg"/><line x1="197.99" y1="148.45" x2="197.99" y2="193.2" class="mg"/><line x1="208.52" y1="148.45" x2="208.52" y2="193.2" class="mg"/><line x1="219.05" y1="148.45" x2="219.05" y2="193.2" class="mg"/><line x1="240.11" y1="148.45" x2="240.11" y2="193.2" class="mg"/><line x1="250.64" y1="148.45" x2="250.64" y2="193.2" class="mg"/><line x1="261.17" y1="148.45" x2="261.17" y2="193.2" class="mg"/><line x1="271.7" y1="148.45" x2="271.7" y2="193.2" class="mg"/><line x1="292.75" y1="148.45" x2="292.75" y2="193.2" class="mg"/><line x1="303.28" y1="148.45" x2="303.28" y2="193.2" class="mg"/><line x1="313.81" y1="148.45" x2="313.81" y2="193.2" class="mg"/><line x1="324.34" y1="148.45" x2="324.34" y2="193.2" class="mg"/><line x1="345.4" y1="148.45" x2="345.4" y2="193.2" class="mg"/><line x1="355.93" y1="148.45" x2="355.93" y2="193.2" class="mg"/><line x1="366.46" y1="148.45" x2="366.46" y2="193.2" class="mg"/><line x1="376.99" y1="148.45" x2="376.99" y2="193.2" class="mg"/><line x1="398.04" y1="148.45" x2="398.04" y2="193.2" class="mg"/><line x1="408.57" y1="148.45" x2="408.57" y2="193.2" class="mg"/><line x1="419.1" y1="148.45" x2="419.1" y2="193.2" class="mg"/><line x1="429.63" y1="148.45" x2="429.63" y2="193.2" class="mg"/><line x1="450.69" y1="148.45" x2="450.69" y2="193.2" class="mg"/><line x1="461.22" y1="148.45" x2="461.22" y2="193.2" class="mg"/><line x1="471.75" y1="148.45" x2="471.75" y2="193.2" class="mg"/><line x1="482.28" y1="148.45" x2="482.28" y2="193.2" class="mg"/><line x1="503.33" y1="148.45" x2="503.33" y2="193.2" class="mg"/><line x1="513.86" y1="148.45" x2="513.86" y2="193.2" class="mg"/><line x1="524.39" y1="148.45" x2="524.39" y2="193.2" class="mg"/><line x1="534.92" y1="148.45" x2="534.92" y2="193.2" class="mg"/><line x1="19" y1="190.22" x2="545.45" y2="190.22" class="mg"/><line x1="19" y1="187.23" x2="545.45" y2="187.23" class="mg"/><line x1="19" y1="184.25" x2="545.45" y2="184.25" class="mg"/><line x1="19" y1="181.27" x2="545.45" y2="181.27" class="mg"/><line x1="19" y1="175.3" x2="545.45" y2="175.3" class="mg"/><line x1="19" y1="172.32" x2="545.45" y2="172.32" class="mg"/><line x1="19" y1="169.33" x2="545.45" y2="169.33" class="mg"/><line x1="19" y1="166.35" x2="545.45" y2="166.35" class="mg"/><line x1="19" y1="160.38" x2="545.45" y2="160.38" class="mg"/><line x1="19" y1="157.4" x2="545.45" y2="157.4" class="mg"/><line x1="19" y1="154.42" x2="545.45" y2="154.42" class="mg"/><line x1="19" y1="151.43" x2="545.45" y2="151.43" class="mg"/><line x1="71.65" y1="148.45" x2="71.65" y2="193.2" class="Mg"/><line x1="124.29" y1="148.45" x2="124.29" y2="193.2" class="Mg"/><line x1="176.94" y1="148.45" x2="176.94" y2="193.2" class="Mg"/><line x1="229.58" y1="148.45" x2="229.58" y2="193.2" class="Mg"/><line x1="282.23" y1="148.45" x2="282.23" y2="193.2" class="Mg"/><line x1="334.87" y1="148.45" x2="334.87" y2="193.2" class="Mg"/><line x1="387.52" y1="148.45" x2="387.52" y2="193.2" class="Mg"/><line x1="440.16" y1="148.45" x2="440.16" y2="193.2" class="Mg"/><line x1="492.81" y1="148.45" x2="492.81" y2="193.2" class="Mg"/><line x1="19" y1="178.28" x2="545.45" y2="178.28" class="Mg"/><line x1="19" y1="163.37" x2="545.45" y2="163.37" class="Mg"/><svg x="0" y="0" width="550" height="282" overflow="hidden"><clipPath id="c2"><rect x="19.0" y="148.45" width="526.45" height="44.75"/></clipPath><polyline points="19.00,185.42 19.10,185.13 19.26,185.48 19.33,185.91 19.42,186.59 19.66,188.73 19.73,189.29 19.99,190.49 20.32,191.09 20.65,191.63 20.98,191.99 21.30,192.05 21.63,192.01 21.96,192.09 22.29,192.51 22.62,192.30 22.95,192.13 23.28,192.08 23.61,192.14 23.94,191.85 24.27,191.79 24.60,191.77 24.93,191.78 25.16,191.63 25.26,191.54 25.58,191.09 25.58,191.09 25.79,190.75 25.91,190.40 26.00,190.16 26.21,190.00 26.24,190.02 26.42,190.18 26.57,190.30 26.84,190.58 26.90,190.67 27.23,191.31 27.56,191.77 27.89,191.97 28.22,192.32 28.55,192.20 28.88,192.32 29.21,192.48 29.54,192.16 29.86,192.16 30.19,192.15 30.52,192.24 30.85,192.47 31.18,192.57 31.51,192.47 31.84,192.31 32.17,192.19 32.50,192.31 32.83,192.13 33.16,192.30 33.49,192.40 33.82,192.38 34.14,191.99 34.47,192.51 34.80,192.58 35.13,192.49 35.46,192.20 35.79,192.02 36.12,192.04 36.45,192.26 36.78,192.27 37.11,192.37 37.44,192.21 37.77,192.09 38.10,192.03 38.42,192.07 38.75,192.22 39.08,192.34 39.41,192.19 39.74,192.03 40.07,192.39 40.40,192.25 40.73,192.11 41.06,192.08 41.39,192.20 41.72,192.43 42.05,192.19 42.38,192.19 42.71,192.20 43.03,191.99 43.36,192.21 43.69,192.26 44.02,192.13 44.35,191.89 44.68,192.12 45.01,192.18 45.34,192.05 45.67,191.91 46.00,191.94 46.33,192.55 46.66,192.64 46.99,192.38 47.31,191.98 47.64,191.93 47.97,192.25 48.30,192.24 48.63,191.94 48.77,191.62 48.96,191.26 49.08,190.98 49.24,190.62 49.29,190.55 49.40,190.53 49.56,190.95 49.62,191.17 49.72,191.45 49.95,191.73 50.03,191.78 50.28,191.95 50.61,191.99 50.94,192.43 51.27,192.39 51.59,192.43 51.92,192.58 52.25,192.33 52.58,192.50 52.91,192.61 53.24,192.62 53.57,192.42 53.90,192.61 54.23,192.63 54.56,192.63 54.89,192.59 55.22,192.39 55.55,192.46 55.87,192.27 56.20,192.19 56.53,192.39 56.86,192.52 57.19,192.56 57.52,192.52 57.85,192.42 58.18,192.09 58.51,192.50 58.84,192.39 59.17,192.21 59.50,192.00 59.83,191.97 60.15,192.20 60.48,192.08 60.81,191.93 61.14,192.03 61.47,192.31 61.80,192.34 62.13,192.26 62.46,192.04 62.79,191.34 63.12,191.22 63.45,190.09 63.78,187.00 64.08,179.94 64.11,179.02 64.29,171.19 64.39,166.61 64.43,165.39 64.50,164.56 64.61,166.69 64.71,171.42 64.76,173.98 64.92,180.36 65.09,185.18 65.42,189.80 65.75,191.09 66.08,191.68 66.41,191.74 66.74,191.76 67.07,191.82 67.40,191.72 67.73,191.92 68.06,191.89 68.39,191.85 68.71,192.10 69.04,192.24 69.37,192.07 69.70,192.13 70.03,192.42 70.36,192.04 70.69,192.08 71.02,192.03 71.35,192.11 71.68,192.65 72.01,192.55 72.34,192.09 72.67,192.17 72.99,192.56 73.32,192.32 73.65,192.20 73.98,192.23 74.31,192.15 74.64,191.84 74.97,191.70 75.30,192.11 75.63,192.37 75.96,192.40 76.29,191.84 76.62,192.16 76.95,192.26 77.27,192.26 77.60,192.18 77.93,192.00 78.26,191.17 78.46,190.72 78.59,190.51 78.88,189.79 78.92,189.64 79.09,189.04 79.25,188.73 79.30,188.69 79.51,188.75 79.58,188.87 79.72,189.30 79.91,190.09 80.14,190.76 80.24,190.85 80.57,191.17 80.90,192.17 81.23,191.87 81.56,191.89 81.88,191.92 82.21,191.84 82.54,192.59 82.87,192.35 83.20,192.24 83.53,192.23 83.86,192.20 84.19,192.30 84.52,192.42 84.85,192.35 85.18,191.97 85.51,191.98 85.84,192.09 86.16,192.02 86.49,191.98 86.82,192.27 87.15,192.64 87.48,192.33 87.81,192.32 88.14,192.62 88.47,192.12 88.80,192.19 89.13,192.39 89.46,192.58 89.79,192.62 90.12,192.68 90.44,192.62 90.77,192.34 91.10,191.99 91.43,192.55 91.76,192.07 92.09,192.36 92.42,192.59 92.75,192.45 93.08,192.35 93.41,192.41 93.74,192.22 94.07,192.01 94.40,192.53 94.72,192.34 95.05,192.46 95.38,192.57 95.71,192.60 96.04,192.14 96.37,192.36 96.70,192.35 97.03,192.25 97.36,192.10 97.69,192.55 98.02,192.58 98.35,192.38 98.68,191.98 99.00,191.69 99.33,192.30 99.66,192.10 99.99,191.64 100.32,191.02 100.65,190.91 100.98,190.73 101.31,190.74 101.37,190.78 101.64,190.56 101.68,190.44 101.84,189.99 101.97,189.83 102.00,189.84 102.16,190.32 102.30,190.97 102.32,191.04 102.63,191.49 102.63,191.49 102.96,191.66 103.28,191.65 103.61,192.11 103.94,192.13 104.27,192.13 104.60,192.14 104.93,192.18 105.26,191.83 105.59,191.68 105.92,191.79 106.25,192.15 106.58,192.00 106.91,191.56 107.24,191.36 107.56,191.13 107.89,190.71 108.22,190.16 108.55,188.60 108.88,184.43 109.21,172.64 109.28,168.57 109.49,151.53 109.54,146.93 109.59,146.21 109.70,146.21 109.81,146.21 109.87,148.02 109.91,151.81 110.12,169.04 110.20,173.70 110.53,185.15 110.86,188.66 111.19,190.04 111.52,190.66 111.84,191.25 112.17,191.73 112.50,191.54 112.83,191.50 113.16,191.94 113.49,192.26 113.82,192.40 114.15,192.30 114.48,192.26 114.81,192.02 115.14,191.67 115.47,191.28 115.77,190.78 115.80,190.72 116.08,189.99 116.12,189.88 116.24,189.60 116.40,189.36 116.45,189.35 116.56,189.44 116.72,189.82 116.78,190.03 117.03,190.69 117.11,190.86 117.44,191.71 117.77,191.82 118.10,191.79 118.43,191.99 118.76,192.39 119.09,192.23 119.42,192.30 119.75,192.50 120.08,192.34 120.41,192.04 120.73,192.40 121.06,192.56 121.39,192.24 121.72,192.32 122.05,192.41 122.38,192.50 122.71,192.52 123.04,192.13 123.37,192.08 123.70,191.65 123.78,191.46 123.99,190.57 124.03,190.37 124.09,190.03 124.20,189.74 124.31,189.92 124.36,190.11 124.41,190.32 124.62,191.02 124.69,191.19 125.01,192.20 125.34,192.21 125.67,192.09 126.00,192.60 126.33,192.32 126.66,192.38 126.99,192.26 127.32,192.00 127.65,191.98 127.98,192.10 128.31,192.32 128.64,192.48 128.97,192.46 129.29,192.06 129.62,192.25 129.95,192.27 130.28,192.20 130.61,192.14 130.94,192.53 131.27,192.48 131.60,192.29 131.93,191.97 132.26,192.45 132.59,192.12 132.92,192.30 133.25,192.63 133.57,192.72 133.90,192.34 134.23,192.43 134.56,192.41 134.89,192.22 135.22,192.08 135.55,192.59 135.88,192.48 136.21,192.31 136.54,192.38 136.87,191.95 137.20,191.96 137.53,191.94 137.85,191.91 138.18,191.99 138.51,192.22 138.84,192.03 139.17,191.75 139.50,191.43 139.57,191.34 139.83,190.93 139.88,190.81 140.04,190.48 140.16,190.33 140.20,190.31 140.36,190.36 140.49,190.41 140.52,190.42 140.82,190.63 140.83,190.64 141.15,190.78 141.48,191.58 141.81,191.80 142.13,191.99 142.46,192.24 142.79,192.18 143.12,192.23 143.45,192.39 143.78,192.46 144.11,192.10 144.44,192.35 144.77,192.11 145.10,192.16 145.43,192.43 145.76,192.06 146.09,191.88 146.41,192.23 146.74,192.49 147.07,192.34 147.40,191.87 147.73,192.19 148.06,192.34 148.39,192.38 148.72,192.50 149.05,191.98 149.38,192.16 149.71,192.18 150.04,191.84 150.37,192.06 150.69,192.28 151.02,192.00 151.35,191.59 151.68,191.59 152.01,191.62 152.34,191.60 152.67,191.44 153.00,191.11 153.33,190.61 153.66,190.52 153.99,189.33 154.32,186.12 154.65,178.61 154.77,174.15 154.97,164.64 155.04,161.18 155.17,154.18 155.30,150.86 155.30,150.86 155.43,153.81 155.56,160.72 155.63,164.67 155.83,173.98 155.96,178.80 156.29,186.07 156.62,189.37 156.95,190.43 157.28,190.86 157.61,191.18 157.94,191.38 158.27,191.43 158.60,191.65 158.93,191.85 159.26,191.62 159.58,191.89 159.91,192.17 160.24,192.17 160.57,191.81 160.90,192.31 161.23,191.78 161.56,191.54 161.89,191.39 162.22,191.40 162.27,191.29 162.55,190.55 162.58,190.43 162.74,189.90 162.88,189.50 162.90,189.46 163.06,189.56 163.21,190.04 163.22,190.07 163.53,191.02 163.54,191.03 163.86,191.56 164.19,191.56 164.52,191.93 164.85,192.26 165.18,192.44 165.51,192.15 165.84,191.96 166.17,191.87 166.50,191.92 166.83,192.55 167.16,192.07 167.49,192.21 167.82,192.19 168.14,191.78 168.47,192.16 168.80,192.20 169.13,191.85 169.37,191.36 169.46,191.13 169.68,190.43 169.79,190.11 169.84,190.00 170.00,189.92 170.12,190.09 170.16,190.16 170.32,190.37 170.45,190.36 170.63,190.35 170.78,190.64 171.11,191.60 171.44,191.71 171.77,192.24 172.10,192.28 172.42,192.20 172.75,192.11 173.08,192.49 173.41,192.47 173.74,192.29 174.07,192.05 174.40,192.39 174.73,192.43 175.06,192.31 175.39,192.20 175.72,192.15 176.05,192.02 176.38,192.20 176.70,192.16 177.03,192.02 177.36,192.00 177.69,191.97 178.02,191.97 178.35,192.03 178.68,192.16 179.01,192.16 179.34,192.37 179.67,192.53 180.00,192.54 180.33,191.98 180.66,192.37 180.98,192.44 181.31,192.40 181.64,192.27 181.97,192.12 182.30,192.06 182.63,192.37 182.96,192.53 183.29,192.09 183.62,191.96 183.95,191.93 184.28,191.94 184.61,191.99 184.94,192.26 185.26,192.03 185.59,192.14 185.92,192.19 186.25,192.02 186.58,191.91 186.91,192.30 187.24,192.51 187.57,192.54 187.90,192.09 188.23,191.94 188.56,191.94 188.89,192.06 189.22,192.31 189.54,192.31 189.87,192.52 190.20,192.25 190.53,192.01 190.86,192.38 191.19,192.44 191.52,192.35 191.85,191.89 192.18,191.05 192.37,190.93 192.51,190.67 192.68,189.98 192.84,189.33 192.84,189.31 193.00,189.08 193.16,189.59 193.17,189.63 193.32,190.35 193.50,190.87 193.63,191.07 193.82,191.36 194.15,191.57 194.48,191.74 194.81,192.03 195.14,192.31 195.47,192.11 195.80,191.86 196.13,191.76 196.46,191.90 196.79,192.33 197.12,191.90 197.45,191.62 197.78,191.57 198.10,191.53 198.43,191.20 198.76,191.24 199.09,190.53 199.42,189.17 199.75,185.89 200.07,177.84 200.08,177.62 200.34,167.56 200.41,164.42 200.47,162.19 200.60,159.78 200.73,162.36 200.74,162.62 200.86,167.93 201.07,176.26 201.13,178.09 201.40,184.30 201.73,188.87 202.06,190.65 202.39,191.18 202.71,191.24 203.04,191.95 203.37,191.65 203.70,191.90 204.03,192.00 204.36,192.25 204.69,191.77 205.02,191.86 205.35,191.88 205.68,191.84 206.01,191.74 206.34,191.56 206.67,191.49 206.99,190.93 207.07,190.66 207.32,189.62 207.38,189.33 207.54,188.62 207.65,188.33 207.70,188.30 207.86,188.51 207.98,188.91 208.02,189.04 208.31,190.30 208.33,190.38 208.64,191.24 208.97,191.79 209.30,191.75 209.63,191.82 209.96,192.05 210.29,192.41 210.62,192.49 210.95,192.63 211.27,192.27 211.60,192.08 211.93,192.51 212.26,192.23 212.59,192.26 212.92,192.23 213.25,192.14 213.58,191.94 213.91,192.15 214.24,192.43 214.57,192.53 214.90,192.38 215.23,192.58 215.55,192.45 215.88,192.28 216.21,192.13 216.54,192.20 216.87,192.22 217.20,192.09 217.53,191.99 217.86,191.96 218.19,192.53 218.52,192.22 218.85,192.19 219.18,192.31 219.51,192.71 219.83,191.96 220.16,192.27 220.49,192.33 220.82,192.22 221.15,192.56 221.48,192.41 221.81,192.54 222.14,192.47 222.47,191.96 222.80,192.69 223.13,192.68 223.46,192.43 223.79,192.13 224.11,192.22 224.44,192.37 224.77,191.95 225.10,191.55 225.43,191.56 225.76,192.09 226.09,192.07 226.42,192.00 226.75,191.94 227.08,192.00 227.41,192.40 227.74,192.20 228.07,192.26 228.39,192.55 228.72,192.42 229.05,191.98 229.38,192.02 229.71,192.17 230.04,192.40 230.37,192.29 230.70,192.36 231.03,192.29 231.36,192.17 231.69,192.31 232.02,192.36 232.35,192.38 232.67,192.29 233.00,192.01 233.33,192.06 233.66,192.44 233.99,192.48 234.32,192.34 234.65,191.99 234.98,192.12 235.31,192.20 235.64,192.22 235.97,192.23 236.30,192.56 236.63,192.30 236.95,192.17 237.28,192.15 237.61,192.35 237.94,192.37 238.27,192.35 238.60,192.29 238.93,192.23 239.26,192.50 239.59,192.06 239.92,192.35 240.25,192.46 240.58,192.01 240.91,192.19 241.23,192.35 241.56,192.38 241.89,192.36 242.22,192.31 242.55,192.35 242.88,191.87 243.21,191.72 243.54,192.05 243.87,192.07 244.20,191.50 244.53,190.97 244.86,190.39 245.19,189.64 245.52,186.70 245.84,179.87 245.87,179.00 246.14,169.25 246.17,167.75 246.27,164.26 246.40,162.04 246.50,163.46 246.53,164.30 246.66,169.34 246.83,175.94 246.93,178.99 247.16,184.43 247.49,188.27 247.82,189.92 248.15,191.09 248.48,191.50 248.81,191.53 249.14,191.65 249.47,191.79 249.80,191.62 250.12,192.00 250.45,191.99 250.78,191.98 251.11,192.06 251.44,191.98 251.77,191.99 252.10,191.98 252.43,191.82 252.57,191.63 252.76,191.27 252.88,190.93 253.04,190.46 253.09,190.36 253.20,190.25 253.36,190.20 253.42,190.21 253.52,190.30 253.75,190.91 253.83,191.20 254.08,191.70 254.40,191.98 254.73,192.15 255.06,192.09 255.39,192.06 255.72,192.36 256.05,192.35 256.38,192.39 256.71,192.34 257.04,192.23 257.37,192.31 257.70,192.22 258.03,192.06 258.36,192.06 258.68,192.43 259.01,192.21 259.34,191.98 259.67,191.99 260.00,192.10 260.33,192.03 260.66,192.06 260.99,192.38 261.32,192.47 261.65,192.22 261.98,192.45 262.31,192.45 262.64,192.54 262.96,192.55 263.29,192.09 263.62,191.98 263.95,192.01 264.28,192.15 264.61,192.35 264.94,191.98 265.27,192.06 265.60,192.16 265.93,192.20 266.26,192.08 266.59,192.10 266.92,192.56 267.24,192.54 267.57,192.23 267.90,192.20 268.23,192.42 268.56,192.22 268.89,192.09 269.22,192.15 269.55,192.66 269.88,192.48 270.21,192.56 270.54,192.69 270.87,192.43 271.20,192.63 271.52,192.71 271.85,192.66 272.18,192.47 272.51,192.14 272.84,192.51 273.17,192.26 273.50,192.05 273.83,192.57 274.16,192.07 274.49,192.36 274.82,192.32 275.15,192.02 275.48,192.30 275.80,192.06 276.13,192.19 276.46,192.32 276.79,192.40 277.12,191.98 277.45,192.51 277.78,192.66 278.11,192.60 278.44,192.59 278.77,192.27 279.10,192.13 279.43,192.18 279.76,192.47 280.08,192.20 280.41,192.01 280.74,192.29 281.07,192.55 281.40,192.00 281.73,192.45 282.06,192.47 282.39,192.19 282.72,191.81 283.05,192.09 283.38,192.20 283.71,192.13 284.04,192.15 284.37,192.55 284.69,192.08 285.02,192.32 285.35,192.15 285.68,191.76 286.01,192.09 286.34,192.25 286.67,192.08 287.00,191.95 287.33,191.97 287.66,192.16 287.99,191.64 288.32,191.50 288.65,191.44 288.97,190.92 289.30,190.65 289.63,190.09 289.96,189.22 290.29,187.98 290.62,186.58 290.95,182.79 291.26,176.76 291.28,176.37 291.61,166.47 291.63,165.67 291.82,159.83 291.94,157.54 292.00,157.21 292.18,159.78 292.27,162.19 292.37,165.60 292.60,172.98 292.74,176.76 292.93,180.81 293.25,185.60 293.58,188.29 293.91,189.74 294.24,190.67 294.57,191.23 294.90,191.42 295.23,191.72 295.56,191.56 295.89,191.54 296.22,191.64 296.55,191.94 296.88,191.81 297.21,191.48 297.53,191.26 297.86,191.07 298.19,189.35 298.27,188.81 298.52,186.61 298.54,186.46 298.67,185.22 298.80,184.68 298.85,184.78 298.93,185.26 299.06,186.52 299.18,187.72 299.33,189.02 299.51,190.20 299.84,190.83 300.17,191.50 300.50,191.84 300.83,192.00 301.16,192.40 301.49,192.47 301.81,192.32 302.14,192.20 302.47,192.35 302.80,192.04 303.13,192.02 303.46,192.22 303.79,192.53 304.12,192.29 304.45,192.33 304.78,192.16 305.11,192.03 305.44,192.00 305.77,191.62 306.09,191.83 306.27,191.73 306.42,191.28 306.58,190.73 306.74,190.34 306.75,190.31 306.90,190.07 307.06,190.16 307.08,190.20 307.22,190.63 307.41,191.38 307.53,191.65 307.74,192.01 308.07,192.24 308.40,192.16 308.73,192.39 309.06,192.56 309.39,192.28 309.72,191.97 310.05,192.05 310.37,192.11 310.70,192.01 311.03,192.00 311.36,192.10 311.69,192.32 312.02,192.10 312.35,191.98 312.68,191.92 313.01,191.91 313.34,191.97 313.67,192.02 314.00,191.98 314.33,191.90 314.65,191.91 314.98,192.15 315.31,192.28 315.64,192.29 315.97,192.11 316.30,191.89 316.63,192.46 316.96,192.49 317.29,192.37 317.62,192.57 317.95,192.59 318.28,192.33 318.61,192.30 318.93,192.53 319.26,192.59 319.59,192.26 319.92,192.20 320.25,192.22 320.58,192.26 320.91,192.63 321.24,192.58 321.57,192.42 321.90,192.24 322.23,192.59 322.56,192.55 322.89,192.42 323.22,192.20 323.54,191.80 323.87,191.91 324.20,191.80 324.53,191.80 324.86,191.94 325.19,192.45 325.52,192.00 325.85,191.98 326.18,191.93 326.51,191.81 326.84,192.47 327.17,192.39 327.50,192.38 327.82,192.34 328.15,192.12 328.48,192.16 328.81,192.18 329.14,192.02 329.47,191.70 329.80,191.54 330.13,191.50 330.46,191.84 330.79,192.10 331.12,191.97 331.45,191.67 331.78,191.38 332.10,191.20 332.43,191.07 332.76,190.85 333.09,191.19 333.42,190.80 333.75,190.46 334.08,190.37 334.39,189.42 334.41,189.39 334.74,188.66 335.07,188.04 335.40,187.25 335.45,187.06 335.73,185.88 335.97,184.72 336.06,184.23 336.38,180.75 336.50,179.00 336.71,175.28 336.87,171.74 337.03,166.87 337.04,166.29 337.18,160.99 337.34,155.41 337.37,154.61 337.50,153.12 337.55,153.55 337.66,156.10 337.70,157.64 337.82,162.32 338.03,170.96 338.13,174.34 338.36,180.02 338.61,183.59 338.69,184.57 339.02,187.26 339.35,188.85 339.68,189.76 340.01,190.33 340.34,190.62 340.66,190.55 340.99,191.12 341.32,191.57 341.65,191.55 341.98,191.27 342.31,191.54 342.64,191.56 342.97,191.46 343.30,191.57 343.63,190.79 343.96,189.21 344.07,188.33 344.29,186.52 344.34,186.04 344.47,184.89 344.60,184.36 344.62,184.38 344.73,184.96 344.86,186.26 344.94,187.10 345.13,188.62 345.27,189.45 345.60,190.93 345.93,191.71 346.26,191.57 346.59,191.49 346.92,191.87 347.25,192.15 347.58,192.38 347.91,191.97 348.24,191.78 348.57,192.11 348.90,192.41 349.22,192.31 349.55,191.98 349.88,192.08 350.21,191.97 350.54,191.78 350.87,192.10 351.20,192.23 351.53,192.24 351.86,192.18 352.19,192.03 352.52,191.69 352.85,191.51 353.16,191.34 353.18,191.34 353.50,191.06 353.58,190.96 353.79,190.69 353.83,190.64 354.00,190.49 354.16,190.47 354.21,190.50 354.42,190.94 354.49,191.14 354.82,191.63 354.84,191.64 355.15,191.77 355.48,192.07 355.81,192.41 356.14,192.24 356.47,192.10 356.80,192.52 357.13,192.37 357.46,192.19 357.78,192.03 358.11,191.90 358.44,192.06 358.77,191.80 359.10,192.16 359.43,192.29 359.76,191.68 360.09,191.64 360.42,191.69 360.75,191.72 361.08,191.78 361.41,192.49 361.74,192.51 362.06,192.09 362.39,191.83 362.72,191.91 363.05,192.52 363.38,192.29 363.71,192.07 364.04,191.91 364.37,192.10 364.70,192.51 365.03,192.42 365.36,192.16 365.69,191.79 366.02,192.22 366.35,191.97 366.67,191.44 367.00,190.88 367.16,190.86 367.33,190.55 367.58,189.51 367.66,189.15 367.79,188.72 367.99,188.49 368.00,188.49 368.21,188.66 368.32,188.96 368.42,189.34 368.65,190.21 368.84,190.60 368.98,190.84 369.31,191.20 369.64,191.67 369.97,192.01 370.30,192.19 370.63,191.88 370.95,191.89 371.28,192.17 371.61,192.43 371.94,191.96 372.27,192.06 372.60,191.81 372.93,191.73 373.26,191.90 373.59,191.78 373.92,191.90 374.25,191.09 374.58,188.99 374.58,188.97 374.79,186.82 374.89,185.61 374.91,185.51 375.00,185.02 375.11,185.53 375.21,186.73 375.23,187.03 375.42,189.02 375.56,189.94 375.89,190.99 376.22,191.23 376.55,191.35 376.88,191.54 377.21,191.76 377.54,191.90 377.87,191.91 378.20,191.69 378.53,191.83 378.86,191.95 379.19,191.93 379.51,191.25 379.84,190.86 380.17,190.49 380.50,189.94 380.83,189.05 381.16,187.28 381.49,185.19 381.55,184.69 381.82,181.73 382.03,178.96 382.15,177.24 382.26,175.68 382.48,174.11 382.50,174.10 382.74,175.66 382.81,176.51 382.97,178.76 383.14,181.07 383.45,184.59 383.47,184.74 383.79,187.11 384.12,188.79 384.45,189.78 384.78,190.75 385.11,191.43 385.44,191.54 385.77,191.50 386.10,191.33 386.43,191.18 386.76,191.19 387.09,191.99 387.42,191.95 387.75,191.94 388.07,191.82 388.40,191.47 388.73,191.58 389.06,191.51 389.39,190.50 389.68,188.20 389.72,187.75 389.89,185.56 389.99,184.16 390.05,183.66 390.10,183.47 390.21,183.99 390.31,185.28 390.38,186.21 390.52,188.00 390.71,189.85 391.04,191.33 391.37,191.70 391.70,191.70 392.03,191.98 392.35,192.27 392.68,192.45 393.01,192.29 393.34,192.57 393.67,192.36 394.00,192.09 394.33,191.80 394.66,191.96 394.99,191.80 395.32,192.11 395.65,192.24 395.98,191.69 396.31,191.24 396.37,191.13 396.63,190.79 396.68,190.72 396.84,190.39 396.96,190.13 397.00,190.08 397.16,190.10 397.29,190.46 397.32,190.55 397.62,191.70 397.63,191.72 397.95,191.54 398.28,191.67 398.61,191.93 398.94,192.45 399.27,192.59 399.60,192.09 399.93,192.07 400.26,192.15 400.59,191.88 400.91,192.22 401.24,192.42 401.57,192.51 401.90,192.47 402.23,192.17 402.56,192.39 402.89,192.17 403.22,191.94 403.55,192.08 403.88,192.24 404.21,192.07 404.54,192.03 404.87,192.10 405.19,192.41 405.52,192.25 405.85,192.31 406.18,192.45 406.51,192.70 406.84,192.64 407.17,192.54 407.50,192.60 407.83,192.62 408.16,192.00 408.49,192.24 408.82,192.42 409.15,192.56 409.48,192.63 409.80,192.17 410.13,192.34 410.46,192.20 410.79,192.05 411.12,192.21 411.45,192.62 411.78,192.16 412.11,191.94 412.44,192.02 412.77,192.42 413.10,192.12 413.43,192.13 413.76,192.29 414.08,192.63 414.41,192.52 414.74,192.47 415.07,192.36 415.40,192.24 415.73,192.28 416.06,192.23 416.39,192.48 416.72,192.59 417.05,192.38 417.38,192.55 417.71,192.38 418.04,192.09 418.36,191.89 418.69,192.49 419.02,192.49 419.35,192.14 419.68,191.75 419.87,191.51 420.01,191.28 420.18,191.04 420.34,190.81 420.34,190.80 420.50,190.47 420.66,190.18 420.67,190.17 420.82,190.27 421.00,190.61 421.13,190.86 421.33,191.17 421.66,191.51 421.99,191.82 422.32,191.97 422.64,192.01 422.97,192.01 423.30,192.28 423.63,192.34 423.96,191.84 424.29,191.42 424.62,191.45 424.95,191.89 425.28,191.64 425.61,191.54 425.94,191.34 426.27,190.25 426.60,189.18 426.92,187.45 427.25,184.94 427.26,184.92 427.58,181.49 427.68,179.96 427.89,176.71 427.91,176.45 428.10,175.65 428.24,176.60 428.31,177.36 428.52,179.98 428.57,180.59 428.90,184.39 428.94,184.80 429.23,187.08 429.56,189.48 429.89,190.36 430.22,190.76 430.55,190.92 430.88,191.00 431.20,190.90 431.53,190.98 431.86,191.32 432.19,191.64 432.52,191.73 432.85,191.64 433.18,191.60 433.51,191.57 433.84,191.51 434.17,191.08 434.50,190.62 434.83,189.10 434.97,187.78 435.16,185.58 435.24,184.43 435.37,182.66 435.48,181.87 435.50,181.86 435.63,182.67 435.76,184.47 435.81,185.21 436.03,187.83 436.14,188.76 436.47,190.50 436.80,191.81 437.13,191.44 437.46,191.94 437.79,192.14 438.12,191.90 438.45,191.85 438.78,192.16 439.11,192.30 439.44,192.19 439.76,191.45 440.09,191.50 440.42,191.84 440.75,192.13 441.08,192.33 441.41,192.19 441.74,192.13 442.07,192.36 442.40,192.47 442.73,192.16 443.06,192.11 443.39,192.41 443.72,192.47 444.04,192.41 444.37,192.39 444.70,192.47 445.03,192.40 445.36,192.42 445.69,192.61 446.02,192.45 446.35,192.09 446.68,192.08 447.01,192.20 447.34,192.35 447.67,192.60 448.00,192.51 448.33,192.34 448.65,192.15 448.98,192.33 449.31,192.14 449.64,192.13 449.97,192.19 450.30,192.32 450.63,192.16 450.96,192.27 451.29,192.37 451.62,192.39 451.95,191.91 452.28,192.09 452.61,192.29 452.93,192.49 453.26,192.71 453.59,192.35 453.92,192.43 454.25,192.25 454.58,191.99 454.91,191.93 455.24,192.11 455.57,192.49 455.90,192.54 456.23,192.18 456.56,192.55 456.89,192.31 457.21,192.14 457.54,192.14 457.87,192.65 458.20,191.95 458.53,191.97 458.86,192.13 459.19,192.34 459.52,192.25 459.85,192.38 460.18,192.17 460.51,191.96 460.84,191.88 461.17,192.26 461.49,192.07 461.82,192.22 462.15,192.54 462.48,192.50 462.81,191.90 463.14,192.18 463.47,192.27 463.80,191.88 464.13,191.82 464.46,192.14 464.79,191.76 465.12,191.02 465.45,190.37 465.67,189.44 465.77,188.87 465.98,187.41 466.10,186.50 466.14,186.25 466.30,185.74 466.43,186.16 466.46,186.31 466.62,187.48 466.76,188.48 466.93,189.25 467.09,189.80 467.42,190.93 467.75,191.33 468.08,191.50 468.41,191.80 468.74,191.82 469.07,191.84 469.40,191.84 469.73,191.77 470.05,191.11 470.38,191.08 470.71,190.57 471.04,189.86 471.37,189.03 471.70,187.47 472.03,185.25 472.26,182.86 472.36,181.53 472.68,176.31 472.69,176.13 472.89,172.64 473.02,171.29 473.10,171.10 473.31,173.11 473.35,173.70 473.52,176.69 473.68,179.21 473.94,183.06 474.01,183.93 474.33,187.45 474.66,189.32 474.99,189.91 475.32,190.81 475.65,191.49 475.98,191.17 476.31,191.18 476.64,191.44 476.97,191.51 477.30,191.46 477.63,192.13 477.96,191.74 478.29,191.70 478.61,191.72 478.94,191.72 479.27,191.91 479.60,191.62 479.93,190.59 480.26,188.38 480.47,186.50 480.59,184.89 480.74,182.20 480.87,179.75 480.92,179.08 481.00,178.64 481.13,179.73 481.25,181.90 481.26,182.19 481.53,186.60 481.58,187.18 481.91,189.68 482.24,191.39 482.57,191.31 482.89,191.49 483.22,191.80 483.55,192.21 483.88,191.70 484.21,192.12 484.54,192.30 484.87,192.13 485.20,192.05 485.53,192.36 485.86,192.18 486.19,191.99 486.52,192.19 486.85,191.61 487.18,191.15 487.37,190.79 487.50,190.50 487.68,190.05 487.83,189.73 487.84,189.72 488.00,189.90 488.16,190.32 488.16,190.33 488.32,190.63 488.49,190.89 488.63,191.14 488.82,191.35 489.15,191.70 489.48,192.22 489.81,192.19 490.14,191.57 490.47,191.23 490.80,191.23 491.13,191.77 491.46,191.61 491.78,191.71 492.11,191.92 492.44,192.30 492.77,192.13 493.10,192.02 493.43,192.29 493.76,192.52 494.09,192.08 494.42,191.90 494.75,191.88 495.08,191.88 495.41,191.89 495.74,192.03 496.06,191.95 496.39,192.18 496.72,192.41 497.05,192.47 497.38,192.09 497.71,192.40 498.04,192.52 498.37,192.47 498.70,192.21 499.03,192.36 499.36,192.10 499.69,192.06 500.02,192.44 500.34,192.04 500.67,191.84 501.00,192.12 501.33,192.39 501.66,192.11 501.99,192.27 502.32,192.06 502.65,192.14 502.98,192.59 503.31,192.31 503.64,192.43 503.97,192.27 504.30,192.03 504.62,191.93 504.95,192.14 505.28,191.99 505.61,191.96 505.94,192.05 506.27,192.34 506.60,192.49 506.93,192.60 507.26,192.61 507.59,192.40 507.92,192.42 508.25,192.25 508.58,192.04 508.90,191.87 509.23,192.17 509.56,192.41 509.89,192.15 510.22,192.07 510.55,192.36 510.88,192.11 511.21,192.10 511.54,192.11 511.87,192.19 512.20,192.57 512.53,192.56 512.86,192.19 513.18,192.08 513.51,192.20 513.84,192.04 514.17,191.84 514.50,192.02 514.83,192.20 515.16,192.10 515.49,191.77 515.82,191.99 516.15,191.87 516.48,191.52 516.81,191.44 517.14,190.21 517.46,188.99 517.79,186.77 517.86,186.11 518.12,182.99 518.23,181.39 518.42,178.81 518.45,178.42 518.60,177.66 518.78,178.57 518.78,178.59 518.97,180.98 519.11,183.03 519.34,185.77 519.44,186.77 519.77,189.19 520.10,190.71 520.43,191.24 520.76,191.60 521.09,192.02 521.42,191.77 521.74,192.09 522.07,191.95 522.40,191.69 522.73,191.56 523.06,191.93 523.39,191.55 523.72,191.41 524.05,191.48 524.38,191.35 524.71,190.80 525.04,189.66 525.37,187.47 525.67,183.97 525.70,183.54 525.98,177.94 526.03,177.07 526.14,174.83 526.30,173.44 526.35,173.61 526.46,174.82 526.62,178.03 526.68,179.59 526.93,184.44 527.01,185.52 527.34,188.26 527.67,189.94 528.00,191.02 528.33,191.52 528.66,191.57 528.99,191.87 529.32,192.03 529.65,192.07 529.98,192.01 530.31,191.68 530.63,192.18 530.96,192.40 531.29,192.28 531.62,191.87 531.95,192.28 532.28,192.33 532.61,192.04 532.94,191.51 532.97,191.45 533.27,190.74 533.28,190.69 533.44,190.16 533.60,189.84 533.60,189.83 533.76,190.05 533.92,190.67 533.93,190.71 534.23,191.37 534.26,191.36 534.59,191.42 534.91,191.78 535.24,191.67 535.57,191.69 535.90,191.80 536.23,191.85 536.56,191.78 536.89,192.19 537.22,192.18 537.55,192.02 537.88,192.36 538.21,191.97 538.54,192.41 538.87,192.55 539.19,192.21 539.52,192.32 539.85,192.08 540.18,192.28 540.51,192.49 540.84,192.15 541.17,192.44 541.50,192.09 541.83,192.06 542.16,192.33 542.49,192.42 542.82,192.10 543.15,192.13 543.47,192.21 543.80,192.21 544.13,192.20 544.46,192.26 544.79,192.22 545.12,192.14 545.45,192.14" fill="none" stroke="#0072BD" stroke-width="0.5" stroke-opacity="1" stroke-linejoin="round" clip-path="url(#c2)"/></svg><rect x="19.0" y="148.45" width="526.45" height="44.75" fill="none" stroke="#4a4a4a" stroke-width="0.6" class="ax"/><line x1="19" y1="193.2" x2="19" y2="188.7" class="tk"/><line x1="19" y1="148.45" x2="19" y2="152.95" class="tk"/><text transform="translate(19,200.9) scale(1,1.1)" class="tl" text-anchor="middle">0</text><line x1="71.65" y1="193.2" x2="71.65" y2="188.7" class="tk"/><line x1="71.65" y1="148.45" x2="71.65" y2="152.95" class="tk"/><text transform="translate(71.65,200.9) scale(1,1.1)" class="tl" text-anchor="middle">0.5</text><line x1="124.29" y1="193.2" x2="124.29" y2="188.7" class="tk"/><line x1="124.29" y1="148.45" x2="124.29" y2="152.95" class="tk"/><text transform="translate(124.29,200.9) scale(1,1.1)" class="tl" text-anchor="middle">1</text><line x1="176.94" y1="193.2" x2="176.94" y2="188.7" class="tk"/><line x1="176.94" y1="148.45" x2="176.94" y2="152.95" class="tk"/><text transform="translate(176.94,200.9) scale(1,1.1)" class="tl" text-anchor="middle">1.5</text><line x1="229.58" y1="193.2" x2="229.58" y2="188.7" class="tk"/><line x1="229.58" y1="148.45" x2="229.58" y2="152.95" class="tk"/><text transform="translate(229.58,200.9) scale(1,1.1)" class="tl" text-anchor="middle">2</text><line x1="282.23" y1="193.2" x2="282.23" y2="188.7" class="tk"/><line x1="282.23" y1="148.45" x2="282.23" y2="152.95" class="tk"/><text transform="translate(282.23,200.9) scale(1,1.1)" class="tl" text-anchor="middle">2.5</text><line x1="334.87" y1="193.2" x2="334.87" y2="188.7" class="tk"/><line x1="334.87" y1="148.45" x2="334.87" y2="152.95" class="tk"/><text transform="translate(334.87,200.9) scale(1,1.1)" class="tl" text-anchor="middle">3</text><line x1="387.52" y1="193.2" x2="387.52" y2="188.7" class="tk"/><line x1="387.52" y1="148.45" x2="387.52" y2="152.95" class="tk"/><text transform="translate(387.52,200.9) scale(1,1.1)" class="tl" text-anchor="middle">3.5</text><line x1="440.16" y1="193.2" x2="440.16" y2="188.7" class="tk"/><line x1="440.16" y1="148.45" x2="440.16" y2="152.95" class="tk"/><text transform="translate(440.16,200.9) scale(1,1.1)" class="tl" text-anchor="middle">4</text><line x1="492.81" y1="193.2" x2="492.81" y2="188.7" class="tk"/><line x1="492.81" y1="148.45" x2="492.81" y2="152.95" class="tk"/><text transform="translate(492.81,200.9) scale(1,1.1)" class="tl" text-anchor="middle">4.5</text><line x1="545.45" y1="193.2" x2="545.45" y2="188.7" class="tk"/><line x1="545.45" y1="148.45" x2="545.45" y2="152.95" class="tk"/><text transform="translate(545.45,200.9) scale(1,1.1)" class="tl" text-anchor="middle">5</text><line x1="19" y1="193.2" x2="23.5" y2="193.2" class="tk"/><line x1="545.45" y1="193.2" x2="540.95" y2="193.2" class="tk"/><text transform="translate(17.3,195.9) scale(1,1.1)" class="tl" text-anchor="end">0</text><line x1="19" y1="178.28" x2="23.5" y2="178.28" class="tk"/><line x1="545.45" y1="178.28" x2="540.95" y2="178.28" class="tk"/><text transform="translate(17.3,180.98) scale(1,1.1)" class="tl" text-anchor="end">0.5</text><line x1="19" y1="163.37" x2="23.5" y2="163.37" class="tk"/><line x1="545.45" y1="163.37" x2="540.95" y2="163.37" class="tk"/><text transform="translate(17.3,166.07) scale(1,1.1)" class="tl" text-anchor="end">1</text><line x1="19" y1="148.45" x2="23.5" y2="148.45" class="tk"/><line x1="545.45" y1="148.45" x2="540.95" y2="148.45" class="tk"/><text transform="translate(17.3,151.15) scale(1,1.1)" class="tl" text-anchor="end">1.5</text><text transform="translate(282.23,207.8) scale(1,1.1)" class="lb" text-anchor="middle">Frequency (Hz)</text><text transform="translate(7.2,170.82) rotate(-90)" x="0" y="0" class="yl" text-anchor="middle">Pressure (mmHg)</text><text transform="translate(282.23,146.25) scale(1,1.05)" class="tt" text-anchor="middle">FFT plot of Pressure Lower Circulation</text><line x1="29.53" y1="218.4" x2="29.53" y2="263.2" class="mg"/><line x1="40.06" y1="218.4" x2="40.06" y2="263.2" class="mg"/><line x1="50.59" y1="218.4" x2="50.59" y2="263.2" class="mg"/><line x1="61.12" y1="218.4" x2="61.12" y2="263.2" class="mg"/><line x1="82.17" y1="218.4" x2="82.17" y2="263.2" class="mg"/><line x1="92.7" y1="218.4" x2="92.7" y2="263.2" class="mg"/><line x1="103.23" y1="218.4" x2="103.23" y2="263.2" class="mg"/><line x1="113.76" y1="218.4" x2="113.76" y2="263.2" class="mg"/><line x1="134.82" y1="218.4" x2="134.82" y2="263.2" class="mg"/><line x1="145.35" y1="218.4" x2="145.35" y2="263.2" class="mg"/><line x1="155.88" y1="218.4" x2="155.88" y2="263.2" class="mg"/><line x1="166.41" y1="218.4" x2="166.41" y2="263.2" class="mg"/><line x1="187.46" y1="218.4" x2="187.46" y2="263.2" class="mg"/><line x1="197.99" y1="218.4" x2="197.99" y2="263.2" class="mg"/><line x1="208.52" y1="218.4" x2="208.52" y2="263.2" class="mg"/><line x1="219.05" y1="218.4" x2="219.05" y2="263.2" class="mg"/><line x1="240.11" y1="218.4" x2="240.11" y2="263.2" class="mg"/><line x1="250.64" y1="218.4" x2="250.64" y2="263.2" class="mg"/><line x1="261.17" y1="218.4" x2="261.17" y2="263.2" class="mg"/><line x1="271.7" y1="218.4" x2="271.7" y2="263.2" class="mg"/><line x1="292.75" y1="218.4" x2="292.75" y2="263.2" class="mg"/><line x1="303.28" y1="218.4" x2="303.28" y2="263.2" class="mg"/><line x1="313.81" y1="218.4" x2="313.81" y2="263.2" class="mg"/><line x1="324.34" y1="218.4" x2="324.34" y2="263.2" class="mg"/><line x1="345.4" y1="218.4" x2="345.4" y2="263.2" class="mg"/><line x1="355.93" y1="218.4" x2="355.93" y2="263.2" class="mg"/><line x1="366.46" y1="218.4" x2="366.46" y2="263.2" class="mg"/><line x1="376.99" y1="218.4" x2="376.99" y2="263.2" class="mg"/><line x1="398.04" y1="218.4" x2="398.04" y2="263.2" class="mg"/><line x1="408.57" y1="218.4" x2="408.57" y2="263.2" class="mg"/><line x1="419.1" y1="218.4" x2="419.1" y2="263.2" class="mg"/><line x1="429.63" y1="218.4" x2="429.63" y2="263.2" class="mg"/><line x1="450.69" y1="218.4" x2="450.69" y2="263.2" class="mg"/><line x1="461.22" y1="218.4" x2="461.22" y2="263.2" class="mg"/><line x1="471.75" y1="218.4" x2="471.75" y2="263.2" class="mg"/><line x1="482.28" y1="218.4" x2="482.28" y2="263.2" class="mg"/><line x1="503.33" y1="218.4" x2="503.33" y2="263.2" class="mg"/><line x1="513.86" y1="218.4" x2="513.86" y2="263.2" class="mg"/><line x1="524.39" y1="218.4" x2="524.39" y2="263.2" class="mg"/><line x1="534.92" y1="218.4" x2="534.92" y2="263.2" class="mg"/><line x1="19" y1="258.93" x2="545.45" y2="258.93" class="mg"/><line x1="19" y1="254.67" x2="545.45" y2="254.67" class="mg"/><line x1="19" y1="250.4" x2="545.45" y2="250.4" class="mg"/><line x1="19" y1="246.13" x2="545.45" y2="246.13" class="mg"/><line x1="19" y1="237.6" x2="545.45" y2="237.6" class="mg"/><line x1="19" y1="233.33" x2="545.45" y2="233.33" class="mg"/><line x1="19" y1="229.07" x2="545.45" y2="229.07" class="mg"/><line x1="19" y1="224.8" x2="545.45" y2="224.8" class="mg"/><line x1="71.65" y1="218.4" x2="71.65" y2="263.2" class="Mg"/><line x1="124.29" y1="218.4" x2="124.29" y2="263.2" class="Mg"/><line x1="176.94" y1="218.4" x2="176.94" y2="263.2" class="Mg"/><line x1="229.58" y1="218.4" x2="229.58" y2="263.2" class="Mg"/><line x1="282.23" y1="218.4" x2="282.23" y2="263.2" class="Mg"/><line x1="334.87" y1="218.4" x2="334.87" y2="263.2" class="Mg"/><line x1="387.52" y1="218.4" x2="387.52" y2="263.2" class="Mg"/><line x1="440.16" y1="218.4" x2="440.16" y2="263.2" class="Mg"/><line x1="492.81" y1="218.4" x2="492.81" y2="263.2" class="Mg"/><line x1="19" y1="241.87" x2="545.45" y2="241.87" class="Mg"/><line x1="19" y1="220.53" x2="545.45" y2="220.53" class="Mg"/><svg x="0" y="0" width="550" height="282" overflow="hidden"><clipPath id="c3"><rect x="19.0" y="218.4" width="526.45" height="44.79999999999998"/></clipPath><polyline points="19.00,260.41 19.18,260.21 19.33,260.14 19.34,260.13 19.50,259.99 19.66,260.01 19.66,260.01 19.82,260.25 19.99,260.64 20.13,260.90 20.32,261.19 20.65,261.99 20.98,262.21 21.30,261.92 21.63,261.30 21.96,260.94 22.29,261.38 22.62,261.55 22.95,261.54 23.28,261.67 23.61,262.45 23.94,262.51 24.27,262.45 24.60,262.26 24.93,261.75 25.26,262.54 25.58,262.36 25.91,262.28 26.24,262.49 26.57,262.49 26.90,262.14 27.23,262.29 27.56,262.39 27.89,262.20 28.22,261.87 28.55,261.87 28.88,262.01 29.21,262.15 29.54,261.81 29.86,262.01 30.19,261.86 30.52,261.93 30.85,262.36 31.18,262.24 31.51,262.06 31.84,261.82 32.17,261.67 32.50,261.95 32.83,262.07 33.16,262.22 33.49,262.23 33.82,262.10 34.14,261.93 34.37,261.28 34.47,260.82 34.68,260.32 34.80,260.14 34.84,260.09 35.00,260.00 35.13,260.09 35.16,260.12 35.32,260.40 35.46,260.69 35.63,261.14 35.79,261.52 36.12,261.65 36.45,261.90 36.78,262.20 37.11,262.06 37.44,262.39 37.77,262.26 38.10,262.19 38.42,262.33 38.75,262.48 39.08,261.80 39.41,261.98 39.74,262.31 40.07,261.59 40.40,261.55 40.73,261.64 41.06,261.42 41.39,261.46 41.72,261.24 42.05,261.35 42.38,261.60 42.71,261.73 43.03,261.41 43.36,261.11 43.69,260.82 44.02,261.04 44.35,261.44 44.68,261.69 45.01,262.01 45.34,261.85 45.67,261.78 46.00,262.10 46.33,261.81 46.66,262.36 46.99,262.38 47.31,262.20 47.64,262.58 47.97,262.01 48.30,261.79 48.63,261.80 48.96,262.05 49.29,262.03 49.62,261.98 49.95,262.17 50.28,262.36 50.61,262.22 50.94,262.03 51.27,261.97 51.59,262.04 51.92,262.22 52.25,262.12 52.58,262.24 52.91,262.14 53.24,261.99 53.57,261.87 53.90,262.18 54.23,261.83 54.56,261.43 54.89,261.37 55.22,261.80 55.55,261.29 55.87,260.93 56.20,261.22 56.53,261.40 56.86,262.29 57.19,262.21 57.52,261.98 57.85,261.83 58.18,262.55 58.51,261.99 58.84,261.76 59.17,261.63 59.50,261.58 59.83,261.83 60.15,262.10 60.48,262.14 60.81,262.03 61.14,261.67 61.47,262.05 61.80,261.94 62.13,261.71 62.46,261.34 62.79,261.70 63.12,262.18 63.45,262.10 63.78,261.99 64.11,262.04 64.43,261.42 64.76,261.88 65.09,261.88 65.42,261.61 65.75,261.57 66.08,261.92 66.41,261.90 66.74,261.57 67.07,261.02 67.40,261.45 67.73,261.30 68.06,261.22 68.39,260.97 68.71,260.14 69.04,259.87 69.37,258.94 69.66,257.27 69.70,256.83 70.03,253.21 70.08,252.66 70.29,250.32 70.36,249.74 70.50,249.30 70.69,250.30 70.71,250.48 70.92,252.77 71.02,253.90 71.34,256.75 71.35,256.79 71.68,258.12 72.01,258.52 72.34,260.01 72.67,260.76 72.99,261.05 73.32,261.82 73.65,261.69 73.98,261.77 74.31,261.67 74.64,261.20 74.97,261.23 75.30,261.37 75.63,261.72 75.96,262.18 76.29,262.45 76.62,261.52 76.95,261.58 77.27,261.75 77.60,261.96 77.93,262.39 78.26,262.43 78.59,261.94 78.92,261.40 79.25,261.45 79.58,261.17 79.91,261.50 80.24,261.67 80.57,261.74 80.90,261.71 81.23,262.23 81.56,262.33 81.88,262.30 82.21,262.14 82.54,261.81 82.87,261.78 83.20,261.79 83.53,261.83 83.86,262.00 84.19,262.10 84.52,262.30 84.85,262.28 85.18,261.91 85.51,261.92 85.84,262.04 86.16,261.97 86.49,261.80 86.82,261.57 87.15,261.60 87.48,262.18 87.81,262.41 88.14,262.24 88.47,261.87 88.80,261.70 89.13,261.58 89.46,261.07 89.79,261.09 90.12,261.79 90.44,261.71 90.77,261.97 91.10,262.45 91.43,262.24 91.76,262.47 92.09,262.02 92.42,261.69 92.75,261.81 93.08,261.21 93.41,261.12 93.74,260.81 94.07,261.11 94.40,261.58 94.72,261.82 95.05,262.04 95.38,262.15 95.71,262.11 96.04,261.46 96.37,261.80 96.70,261.95 97.03,261.93 97.36,261.76 97.69,262.21 98.02,262.14 98.35,262.13 98.68,262.20 99.00,262.19 99.33,261.85 99.66,262.06 99.99,262.15 100.32,261.64 100.65,261.64 100.98,261.39 101.31,261.56 101.64,261.68 101.97,260.92 102.30,261.04 102.63,260.61 102.96,260.90 103.28,261.43 103.61,261.27 103.94,261.08 104.27,260.90 104.60,261.68 104.93,262.43 105.26,262.39 105.59,261.99 105.92,261.89 106.25,262.12 106.58,261.57 106.91,261.87 107.24,261.84 107.56,261.76 107.89,261.83 108.22,261.62 108.55,261.84 108.88,261.82 109.21,261.69 109.54,262.18 109.87,262.33 110.20,262.45 110.53,262.48 110.86,262.35 111.19,261.70 111.52,261.87 111.84,262.21 112.17,262.59 112.50,262.60 112.83,262.18 113.16,262.07 113.49,262.08 113.82,262.22 114.15,262.53 114.48,262.29 114.81,261.83 115.14,261.31 115.47,261.00 115.80,260.75 116.12,261.61 116.45,261.93 116.78,261.80 117.11,262.31 117.44,262.23 117.77,261.83 118.10,261.63 118.43,262.13 118.76,261.60 119.09,260.58 119.42,261.40 119.75,261.47 120.08,261.77 120.41,261.92 120.73,261.79 121.06,261.80 121.39,262.09 121.72,261.64 122.05,261.75 122.38,262.01 122.71,262.30 123.04,262.35 123.37,262.05 123.70,262.07 124.03,261.98 124.36,261.69 124.69,261.76 125.01,261.57 125.34,261.57 125.67,261.81 126.00,262.20 126.33,261.77 126.66,261.58 126.99,261.65 127.32,261.88 127.65,261.80 127.98,262.24 128.31,262.37 128.64,262.33 128.97,262.05 129.29,261.89 129.62,261.75 129.95,261.81 130.28,261.92 130.61,261.82 130.94,262.20 131.27,262.20 131.60,262.10 131.93,261.89 132.26,261.48 132.59,261.19 132.92,260.65 133.25,259.45 133.57,256.28 133.90,246.25 133.98,240.63 134.14,222.21 134.22,216.16 134.23,216.16 134.30,216.16 134.38,216.16 134.46,221.86 134.56,235.00 134.62,240.04 134.89,253.05 135.22,257.65 135.55,259.55 135.88,260.73 136.21,261.35 136.54,261.33 136.87,260.83 137.20,261.20 137.53,261.33 137.85,261.45 138.18,262.16 138.51,262.17 138.84,262.29 139.17,262.26 139.50,261.94 139.83,262.12 140.16,262.05 140.49,262.18 140.82,262.40 141.15,262.51 141.48,262.15 141.81,261.73 142.13,261.56 142.46,261.63 142.79,261.63 143.12,262.17 143.45,262.02 143.78,261.63 144.11,261.29 144.44,260.82 144.77,261.35 145.10,261.61 145.43,261.56 145.76,262.16 146.09,261.79 146.41,262.17 146.74,262.49 147.07,262.36 147.40,261.70 147.73,261.62 148.06,261.82 148.39,262.14 148.72,262.18 149.05,261.34 149.38,261.28 149.71,261.19 150.04,261.03 150.37,260.02 150.69,260.53 151.02,260.83 151.35,261.55 151.68,261.70 152.01,261.99 152.34,261.93 152.67,261.96 153.00,262.11 153.33,262.17 153.66,261.87 153.99,262.05 154.32,262.17 154.65,261.73 154.97,261.82 155.30,261.68 155.63,261.94 155.96,262.39 156.29,261.71 156.62,261.85 156.95,262.20 157.28,262.25 157.61,261.67 157.94,262.08 158.27,262.36 158.60,262.43 158.93,262.29 159.26,261.56 159.58,261.75 159.91,262.15 160.24,262.16 160.57,261.70 160.90,262.54 161.23,261.97 161.56,261.84 161.89,261.78 162.22,261.45 162.55,261.18 162.77,260.97 162.88,260.88 163.08,260.54 163.21,260.27 163.24,260.20 163.40,260.00 163.54,260.11 163.56,260.16 163.72,260.65 163.86,261.02 164.03,261.08 164.19,260.88 164.52,260.67 164.85,261.27 165.18,261.56 165.51,261.68 165.84,262.01 166.17,261.96 166.50,261.73 166.83,261.83 167.16,262.37 167.49,262.16 167.82,262.01 168.14,262.07 168.47,261.94 168.80,262.37 169.13,262.05 169.46,261.52 169.79,261.85 170.12,261.53 170.45,261.99 170.78,262.34 171.11,262.51 171.44,262.09 171.77,261.93 172.10,261.82 172.42,261.79 172.75,261.97 173.08,261.59 173.41,262.03 173.74,262.13 174.07,261.89 174.40,261.40 174.73,261.29 175.06,261.45 175.39,261.75 175.72,262.39 176.05,261.90 176.38,262.09 176.70,262.05 177.03,261.89 177.36,262.26 177.69,262.33 178.02,262.09 178.35,262.02 178.68,262.23 179.01,261.60 179.34,262.00 179.67,262.18 180.00,262.30 180.33,262.45 180.66,262.11 180.98,262.10 181.31,262.20 181.64,262.32 181.97,261.62 182.30,262.04 182.63,261.96 182.96,261.85 183.29,261.92 183.62,261.78 183.95,262.34 184.28,262.18 184.61,261.67 184.94,262.02 185.26,262.43 185.59,262.21 185.92,262.17 186.25,262.58 186.58,262.22 186.91,262.48 187.24,262.58 187.57,262.54 187.90,262.17 188.23,261.79 188.56,261.81 188.89,261.78 189.22,261.66 189.54,261.82 189.87,261.96 190.20,262.00 190.53,261.93 190.86,261.62 191.19,262.44 191.52,262.19 191.85,262.04 192.18,262.04 192.51,262.48 192.84,261.51 193.17,261.03 193.50,261.15 193.82,261.91 194.15,261.65 194.48,261.96 194.81,261.97 195.14,261.85 195.47,262.02 195.80,261.73 196.13,261.93 196.46,262.19 196.79,262.46 197.12,261.76 197.45,262.16 197.78,261.99 198.10,261.42 198.43,260.60 198.76,261.28 199.09,262.01 199.42,261.97 199.75,261.21 200.08,260.57 200.41,260.84 200.74,261.65 201.07,262.02 201.40,261.97 201.73,261.96 202.06,262.35 202.39,262.17 202.71,261.66 203.04,261.82 203.37,261.95 203.70,261.49 204.03,261.33 204.36,262.04 204.69,261.36 205.02,261.18 205.35,260.85 205.68,261.12 206.01,262.01 206.34,261.93 206.67,262.23 206.99,262.25 207.32,261.95 207.65,262.33 207.98,261.94 208.31,261.79 208.64,261.65 208.97,261.64 209.30,261.31 209.63,261.67 209.96,261.76 210.29,261.64 210.62,262.10 210.95,262.00 211.27,261.90 211.60,261.97 211.93,262.43 212.26,262.06 212.59,262.33 212.92,262.29 213.25,262.09 213.58,262.07 213.91,261.68 214.24,261.58 214.57,261.72 214.90,262.15 215.23,261.47 215.55,261.62 215.67,261.60 215.88,261.35 215.98,261.22 216.14,260.99 216.21,260.87 216.30,260.72 216.46,260.66 216.54,260.76 216.62,260.92 216.87,261.58 216.93,261.68 217.20,261.48 217.53,261.45 217.86,261.64 218.19,262.54 218.52,261.72 218.85,261.61 219.18,261.83 219.51,262.47 219.83,261.95 220.16,262.00 220.49,262.20 220.82,262.40 221.15,261.88 221.48,262.53 221.81,262.41 222.14,262.21 222.47,262.07 222.80,261.76 223.13,262.07 223.46,262.21 223.79,262.23 224.11,262.03 224.44,261.90 224.77,261.88 225.10,261.81 225.43,261.59 225.76,260.52 226.09,261.39 226.42,261.93 226.75,262.15 227.08,262.22 227.41,261.54 227.74,262.17 228.07,262.28 228.39,261.92 228.72,261.97 229.05,262.28 229.38,262.01 229.71,261.87 230.04,262.36 230.37,262.38 230.70,262.38 231.03,262.05 231.36,261.62 231.69,261.96 232.02,261.13 232.35,260.65 232.67,261.27 233.00,261.97 233.33,261.19 233.66,261.89 233.99,261.89 234.32,261.36 234.65,260.04 234.98,259.66 235.31,260.17 235.64,260.61 235.97,260.74 236.07,260.67 236.30,260.43 236.38,260.34 236.54,260.35 236.63,260.40 236.70,260.44 236.86,260.60 236.95,260.79 237.02,260.91 237.28,261.27 237.33,261.29 237.61,261.33 237.94,261.36 238.27,262.03 238.60,262.34 238.93,262.36 239.26,262.23 239.59,262.46 239.92,262.08 240.25,261.70 240.58,261.52 240.91,261.94 241.23,262.13 241.56,262.19 241.89,262.09 242.22,261.69 242.55,261.84 242.88,261.97 243.21,262.02 243.54,261.94 243.87,261.67 244.20,261.92 244.53,262.19 244.86,262.29 245.19,261.69 245.52,262.51 245.84,262.45 246.17,262.19 246.50,262.29 246.83,262.20 247.16,262.05 247.49,261.88 247.82,261.90 248.15,262.36 248.48,261.74 248.81,261.62 249.14,261.64 249.47,261.72 249.80,261.78 250.12,262.01 250.45,262.11 250.78,262.24 251.11,262.46 251.44,262.22 251.77,262.34 252.10,262.30 252.43,262.23 252.76,262.41 253.09,261.24 253.42,260.53 253.75,261.73 254.08,262.32 254.40,262.36 254.73,262.07 255.06,262.15 255.39,262.05 255.72,261.12 256.05,260.98 256.38,261.25 256.71,261.69 257.04,262.07 257.37,262.10 257.70,261.68 258.03,261.88 258.36,261.97 258.68,261.60 259.01,261.82 259.34,261.74 259.67,261.65 260.00,261.51 260.33,261.22 260.66,260.71 260.99,261.03 261.32,261.66 261.65,262.36 261.98,262.24 262.31,261.81 262.64,261.69 262.96,261.82 263.29,262.54 263.62,261.76 263.95,261.90 264.28,261.98 264.61,261.77 264.94,260.81 265.27,260.64 265.60,261.09 265.93,261.77 266.26,261.47 266.59,262.41 266.92,262.00 267.24,261.83 267.57,261.82 267.90,261.81 268.23,262.05 268.56,262.21 268.89,262.32 269.22,262.38 269.55,261.83 269.88,262.02 270.21,262.33 270.54,262.51 270.87,261.91 271.20,261.87 271.52,261.83 271.85,261.91 272.18,262.13 272.51,261.93 272.84,261.99 273.17,261.90 273.50,261.91 273.83,262.36 274.16,262.41 274.49,261.95 274.82,261.97 275.15,262.38 275.48,262.61 275.80,262.00 276.13,261.83 276.46,261.75 276.79,261.65 277.12,261.46 277.45,262.03 277.78,261.75 278.11,261.44 278.44,262.20 278.77,262.40 279.10,262.35 279.43,262.35 279.76,262.50 280.08,262.58 280.41,262.45 280.74,262.19 281.07,262.01 281.40,262.34 281.73,261.36 282.06,261.52 282.39,262.11 282.72,262.11 283.05,262.14 283.38,262.07 283.71,261.87 284.04,261.43 284.37,260.88 284.69,261.42 285.02,261.38 285.35,261.78 285.68,262.07 286.01,261.40 286.34,262.04 286.67,261.88 287.00,261.38 287.33,260.50 287.66,261.14 287.99,261.54 288.32,261.38 288.65,261.11 288.97,261.60 289.30,262.24 289.63,262.10 289.96,261.89 290.29,261.70 290.62,262.00 290.95,262.25 291.28,262.34 291.61,262.24 291.94,261.64 292.27,262.15 292.60,262.32 292.93,262.34 293.25,262.23 293.58,261.90 293.91,261.67 294.24,261.72 294.57,261.73 294.90,261.49 295.23,261.90 295.56,262.00 295.89,261.54 296.22,260.57 296.55,261.36 296.88,261.87 297.21,261.73 297.53,261.52 297.86,261.35 298.19,261.29 298.52,261.56 298.77,261.08 298.85,260.68 299.04,259.69 299.17,259.27 299.18,259.24 299.30,259.16 299.43,259.41 299.51,259.65 299.56,259.86 299.83,261.01 299.84,261.05 300.17,260.98 300.50,260.76 300.83,260.43 301.16,258.50 301.49,248.25 301.54,244.71 301.67,232.07 301.73,225.40 301.80,222.34 301.81,222.48 301.87,225.21 301.93,231.75 302.06,244.38 302.14,249.74 302.47,258.95 302.80,260.29 303.13,260.69 303.46,261.03 303.79,261.11 303.87,260.74 304.12,259.50 304.14,259.44 304.27,259.17 304.40,259.25 304.45,259.36 304.53,259.59 304.66,260.09 304.78,260.63 304.93,261.18 305.11,261.28 305.44,260.78 305.77,261.08 306.09,261.43 306.42,261.87 306.75,262.24 307.08,261.74 307.41,261.58 307.74,261.56 308.07,261.74 308.40,262.16 308.73,261.67 309.06,262.25 309.39,261.91 309.72,261.62 310.05,261.96 310.37,261.91 310.70,261.84 311.03,262.00 311.36,262.36 311.69,262.39 312.02,262.54 312.35,262.19 312.68,262.04 313.01,262.61 313.34,262.62 313.67,262.12 314.00,262.01 314.33,262.05 314.65,261.58 314.98,262.40 315.31,262.25 315.64,262.17 315.97,262.41 316.30,261.80 316.63,261.66 316.96,261.62 317.29,261.74 317.62,262.51 317.95,261.91 318.28,261.98 318.61,262.20 318.93,262.49 319.26,262.15 319.59,261.89 319.92,261.82 320.25,261.84 320.58,262.01 320.91,262.22 321.24,261.68 321.57,261.73 321.90,261.90 322.23,261.77 322.56,260.94 322.89,260.90 323.22,261.32 323.54,261.61 323.87,262.40 324.20,262.23 324.53,261.99 324.86,261.84 325.19,262.43 325.52,262.58 325.85,262.42 326.18,262.36 326.51,262.46 326.84,262.02 327.17,262.23 327.50,262.03 327.82,261.76 328.15,261.79 328.48,262.19 328.81,261.81 329.14,261.62 329.47,261.60 329.80,261.46 330.13,261.36 330.46,261.44 330.79,261.55 331.12,261.57 331.45,262.08 331.78,261.70 332.10,261.86 332.43,262.28 332.76,261.90 333.09,262.50 333.42,261.93 333.75,261.52 334.08,261.47 334.41,261.55 334.74,261.53 335.07,261.63 335.40,261.89 335.73,262.10 336.06,261.98 336.38,261.57 336.71,261.25 337.04,260.89 337.37,260.31 337.70,260.39 338.03,261.35 338.36,261.97 338.69,262.32 339.02,262.32 339.35,262.03 339.68,261.89 340.01,261.85 340.34,261.73 340.66,261.64 340.99,261.63 341.32,261.36 341.65,260.47 341.98,261.74 342.31,260.76 342.64,261.31 342.97,261.90 343.30,261.71 343.63,261.91 343.96,261.83 344.29,261.79 344.62,261.88 344.94,262.36 345.27,261.97 345.60,262.07 345.93,262.24 346.26,261.59 346.59,261.78 346.92,262.13 347.25,262.29 347.58,262.28 347.91,262.28 348.24,262.48 348.57,262.28 348.90,262.03 349.22,261.90 349.55,262.26 349.88,262.21 350.21,262.00 350.54,261.74 350.87,261.90 351.20,262.41 351.53,262.43 351.86,262.20 352.19,261.67 352.52,261.92 352.85,262.30 353.18,262.16 353.50,261.89 353.83,262.06 354.16,261.76 354.49,261.41 354.82,261.20 355.15,261.38 355.48,262.05 355.81,262.22 356.14,262.37 356.47,262.44 356.80,262.31 357.13,261.94 357.46,261.92 357.78,261.98 358.11,262.06 358.44,261.84 358.77,262.43 359.10,262.48 359.43,262.45 359.76,262.43 360.09,261.88 360.42,261.89 360.75,262.02 361.08,262.11 361.41,261.62 361.74,262.12 362.06,261.65 362.39,261.17 362.72,260.85 363.05,261.42 363.38,261.36 363.71,261.57 364.04,261.81 364.37,262.23 364.70,262.25 365.03,262.35 365.36,262.24 365.69,261.86 366.02,261.54 366.35,262.08 366.67,261.97 367.00,261.86 367.33,262.23 367.66,261.92 367.99,262.18 368.32,262.17 368.65,261.99 368.98,261.96 369.31,262.10 369.64,262.26 369.97,262.40 370.30,262.56 370.63,262.48 370.95,262.14 371.28,262.06 371.61,262.17 371.94,262.59 372.27,261.97 372.60,262.33 372.93,262.55 373.26,262.46 373.59,261.72 373.92,262.11 374.25,262.21 374.58,262.17 374.91,261.96 375.23,262.11 375.56,262.24 375.89,262.06 376.22,261.65 376.55,261.95 376.88,262.09 377.21,262.15 377.54,262.14 377.87,262.01 378.20,261.77 378.53,262.09 378.86,262.27 379.19,262.38 379.51,262.48 379.84,261.69 380.17,261.49 380.50,261.41 380.83,261.39 381.16,261.46 381.49,261.51 381.82,261.62 382.15,261.72 382.48,262.13 382.81,261.59 383.14,261.08 383.47,261.22 383.79,261.80 384.12,261.74 384.45,261.53 384.78,261.61 385.11,261.82 385.44,262.21 385.77,262.13 386.10,261.79 386.43,261.79 386.76,262.05 387.09,262.31 387.42,262.01 387.75,262.24 388.07,262.28 388.40,261.77 388.73,262.19 389.06,262.20 389.39,261.98 389.72,261.78 390.05,262.31 390.38,261.88 390.71,261.97 391.04,262.07 391.37,261.96 391.70,261.93 392.03,261.32 392.35,261.46 392.68,261.81 393.01,262.35 393.34,262.45 393.67,262.45 394.00,262.35 394.33,262.14 394.66,261.94 394.99,261.71 395.32,261.92 395.65,262.20 395.98,262.49 396.31,262.56 396.63,262.17 396.96,261.97 397.29,261.88 397.62,261.76 397.95,262.41 398.28,262.54 398.61,262.56 398.94,262.52 399.27,262.13 399.60,261.87 399.93,262.02 400.26,262.29 400.59,262.39 400.91,262.49 401.24,262.24 401.57,262.18 401.90,262.30 402.23,261.91 402.56,262.04 402.89,261.92 403.22,261.79 403.55,261.65 403.78,260.13 403.88,259.19 403.94,258.50 404.02,257.72 404.10,257.38 404.18,257.75 404.21,258.01 404.26,258.54 404.42,260.04 404.54,260.74 404.87,261.58 405.19,262.18 405.52,262.37 405.85,262.39 406.18,262.28 406.51,261.92 406.84,261.67 407.17,261.93 407.50,261.99 407.83,261.95 408.16,262.00 408.49,261.63 408.82,262.01 409.15,262.36 409.48,262.58 409.80,262.25 410.13,262.30 410.46,262.35 410.79,262.36 411.12,262.20 411.45,261.81 411.78,261.48 412.11,261.51 412.44,262.04 412.77,262.04 413.10,262.16 413.43,261.96 413.76,261.86 414.08,262.26 414.41,262.25 414.74,262.05 415.07,262.13 415.40,262.31 415.73,261.96 416.06,262.35 416.39,262.12 416.72,261.59 417.05,260.63 417.38,260.59 417.71,260.89 418.04,261.31 418.36,261.30 418.69,261.57 419.02,261.40 419.35,261.76 419.68,262.01 420.01,262.12 420.34,261.80 420.67,261.38 421.00,261.54 421.33,261.82 421.66,262.27 421.99,261.58 422.32,261.73 422.64,261.81 422.97,262.15 423.30,262.45 423.63,261.70 423.96,261.82 424.29,262.00 424.62,261.97 424.95,261.53 425.28,261.98 425.61,261.37 425.94,261.49 426.27,262.29 426.60,262.06 426.92,262.37 427.25,262.32 427.58,261.66 427.91,262.09 428.24,261.83 428.57,261.75 428.90,261.72 429.23,261.67 429.56,262.28 429.89,262.09 430.22,261.97 430.55,261.94 430.88,261.66 431.20,262.24 431.53,262.14 431.86,261.93 432.19,261.82 432.52,262.07 432.85,262.44 433.18,262.28 433.51,261.89 433.84,262.62 434.17,262.26 434.50,262.29 434.83,262.31 435.16,262.18 435.48,261.72 435.81,261.65 436.14,261.67 436.47,261.71 436.80,261.76 437.13,262.55 437.46,262.24 437.79,262.04 438.12,262.07 438.45,261.95 438.78,262.15 439.11,262.00 439.44,261.95 439.76,262.59 440.09,261.83 440.42,261.73 440.75,261.86 441.08,262.13 441.41,262.06 441.74,262.50 442.07,262.11 442.40,261.74 442.73,261.74 443.06,262.46 443.39,262.17 443.72,262.19 444.04,262.27 444.37,261.49 444.70,261.72 445.03,261.67 445.36,261.67 445.69,261.86 446.02,261.61 446.35,262.13 446.68,262.14 447.01,261.95 447.34,261.79 447.67,261.45 448.00,261.62 448.33,261.61 448.65,261.36 448.98,260.77 449.31,261.40 449.64,261.84 449.97,262.07 450.30,262.16 450.63,261.56 450.96,261.90 451.29,262.08 451.62,262.15 451.95,262.16 452.28,261.89 452.61,261.87 452.93,261.80 453.26,261.58 453.59,261.38 453.92,261.16 454.25,260.96 454.58,260.38 454.77,259.51 454.91,258.70 455.08,257.43 455.24,256.28 455.24,256.26 455.40,255.79 455.56,256.29 455.57,256.34 455.72,257.32 455.90,258.70 456.03,259.73 456.23,260.66 456.56,261.14 456.89,261.67 457.21,261.77 457.54,261.82 457.87,262.19 458.20,261.86 458.53,261.92 458.86,261.94 459.19,261.90 459.52,261.85 459.85,262.16 460.18,262.27 460.51,262.36 460.84,262.50 461.17,261.93 461.49,261.73 461.82,261.96 462.15,262.36 462.48,262.21 462.81,262.42 463.14,261.98 463.47,261.72 463.80,261.85 464.13,261.58 464.46,261.95 464.79,262.15 465.12,262.22 465.45,261.98 465.77,262.13 466.10,262.08 466.43,261.88 466.76,261.53 467.09,261.59 467.42,261.56 467.75,260.74 468.08,258.72 468.17,257.73 468.41,254.73 468.44,254.36 468.57,252.80 468.70,252.16 468.74,252.24 468.83,252.92 468.96,254.47 469.07,255.74 469.23,257.43 469.40,258.83 469.73,260.50 470.05,261.87 470.38,261.90 470.71,261.76 471.04,261.74 471.37,262.04 471.70,261.99 472.03,261.79 472.36,261.94 472.69,262.25 473.02,262.42 473.35,262.25 473.68,262.05 474.01,261.80 474.33,261.47 474.66,261.58 474.99,261.19 475.32,261.22 475.65,261.28 475.98,261.42 476.31,261.60 476.64,261.49 476.97,261.41 477.30,261.51 477.63,261.21 477.96,262.08 478.29,261.93 478.61,261.68 478.94,261.78 479.27,261.75 479.60,261.60 479.93,261.83 480.26,262.27 480.59,262.20 480.92,262.07 481.25,262.21 481.58,262.22 481.91,261.96 482.24,261.78 482.57,261.66 482.89,260.98 483.22,260.69 483.55,261.69 483.88,261.36 484.21,261.23 484.54,261.35 484.87,261.79 485.20,261.45 485.53,261.57 485.86,262.05 486.19,262.45 486.52,262.29 486.85,262.03 487.18,261.82 487.50,261.77 487.83,261.85 488.16,261.92 488.49,261.88 488.82,262.00 489.15,262.00 489.48,261.70 489.81,262.53 490.14,262.10 490.47,262.00 490.80,262.08 491.13,262.10 491.46,262.57 491.78,262.59 492.11,262.38 492.44,261.91 492.77,262.01 493.10,262.08 493.43,262.09 493.76,262.17 494.09,262.64 494.42,262.11 494.75,261.77 495.08,261.74 495.41,261.97 495.74,261.67 496.06,262.49 496.39,262.13 496.72,261.77 497.05,262.12 497.38,262.05 497.71,261.84 498.04,262.00 498.37,262.33 498.70,261.96 499.03,261.83 499.36,261.71 499.69,261.74 500.02,262.06 500.34,262.30 500.67,262.39 501.00,262.50 501.33,262.58 501.66,262.40 501.99,262.59 502.32,261.98 502.65,261.68 502.98,261.78 503.31,261.53 503.64,261.80 503.97,262.06 504.30,262.24 504.62,262.19 504.95,261.47 505.28,261.23 505.61,261.16 505.94,261.07 506.27,260.06 506.60,260.49 506.93,261.25 507.26,261.82 507.59,261.99 507.92,261.95 508.25,262.25 508.58,262.04 508.90,261.57 509.23,261.63 509.56,261.93 509.89,262.23 510.22,262.25 510.55,261.86 510.88,262.00 511.21,261.85 511.54,261.72 511.87,261.65 512.20,261.78 512.53,261.76 512.86,261.77 513.18,261.77 513.51,261.78 513.84,262.39 514.17,262.01 514.50,262.00 514.83,262.09 515.16,262.19 515.49,261.44 515.82,260.40 516.15,259.57 516.48,260.92 516.81,261.68 517.14,260.94 517.46,261.03 517.79,261.50 518.12,262.32 518.45,262.06 518.78,262.24 519.11,262.34 519.44,262.29 519.77,261.72 520.10,262.37 520.43,261.93 520.76,261.76 521.09,262.00 521.42,261.59 521.74,261.51 522.07,261.04 522.40,261.05 522.73,261.56 523.06,261.48 523.39,261.70 523.72,261.69 524.05,261.51 524.38,261.87 524.71,261.81 525.04,261.55 525.37,261.71 525.70,261.62 526.03,261.70 526.35,261.82 526.68,262.11 527.01,262.37 527.34,261.63 527.67,261.24 528.00,261.17 528.33,261.44 528.66,261.83 528.99,262.31 529.32,261.56 529.65,261.57 529.98,261.72 530.31,261.52 530.63,261.32 530.96,262.04 531.29,262.01 531.62,261.52 531.95,261.68 532.28,261.64 532.61,262.02 532.94,262.41 533.27,262.55 533.60,262.37 533.93,262.04 534.26,262.08 534.59,262.36 534.91,262.24 535.24,261.98 535.57,262.03 535.90,262.18 536.23,262.41 536.56,262.20 536.89,262.15 537.22,261.79 537.55,261.34 537.88,262.08 538.21,262.23 538.54,262.34 538.87,262.36 539.19,262.30 539.52,262.17 539.85,262.35 540.18,262.38 540.51,262.29 540.84,262.07 541.17,262.03 541.50,261.67 541.83,261.44 542.16,261.62 542.49,262.28 542.82,262.32 543.15,262.17 543.47,262.11 543.80,262.41 544.13,262.55 544.46,261.93 544.79,262.09 545.12,262.64 545.45,262.52" fill="none" stroke="#0072BD" stroke-width="0.5" stroke-opacity="1" stroke-linejoin="round" clip-path="url(#c3)"/></svg><rect x="19.0" y="218.4" width="526.45" height="44.8" fill="none" stroke="#4a4a4a" stroke-width="0.6" class="ax"/><line x1="19" y1="263.2" x2="19" y2="258.7" class="tk"/><line x1="19" y1="218.4" x2="19" y2="222.9" class="tk"/><text transform="translate(19,270.9) scale(1,1.1)" class="tl" text-anchor="middle">0</text><line x1="71.65" y1="263.2" x2="71.65" y2="258.7" class="tk"/><line x1="71.65" y1="218.4" x2="71.65" y2="222.9" class="tk"/><text transform="translate(71.65,270.9) scale(1,1.1)" class="tl" text-anchor="middle">0.5</text><line x1="124.29" y1="263.2" x2="124.29" y2="258.7" class="tk"/><line x1="124.29" y1="218.4" x2="124.29" y2="222.9" class="tk"/><text transform="translate(124.29,270.9) scale(1,1.1)" class="tl" text-anchor="middle">1</text><line x1="176.94" y1="263.2" x2="176.94" y2="258.7" class="tk"/><line x1="176.94" y1="218.4" x2="176.94" y2="222.9" class="tk"/><text transform="translate(176.94,270.9) scale(1,1.1)" class="tl" text-anchor="middle">1.5</text><line x1="229.58" y1="263.2" x2="229.58" y2="258.7" class="tk"/><line x1="229.58" y1="218.4" x2="229.58" y2="222.9" class="tk"/><text transform="translate(229.58,270.9) scale(1,1.1)" class="tl" text-anchor="middle">2</text><line x1="282.23" y1="263.2" x2="282.23" y2="258.7" class="tk"/><line x1="282.23" y1="218.4" x2="282.23" y2="222.9" class="tk"/><text transform="translate(282.23,270.9) scale(1,1.1)" class="tl" text-anchor="middle">2.5</text><line x1="334.87" y1="263.2" x2="334.87" y2="258.7" class="tk"/><line x1="334.87" y1="218.4" x2="334.87" y2="222.9" class="tk"/><text transform="translate(334.87,270.9) scale(1,1.1)" class="tl" text-anchor="middle">3</text><line x1="387.52" y1="263.2" x2="387.52" y2="258.7" class="tk"/><line x1="387.52" y1="218.4" x2="387.52" y2="222.9" class="tk"/><text transform="translate(387.52,270.9) scale(1,1.1)" class="tl" text-anchor="middle">3.5</text><line x1="440.16" y1="263.2" x2="440.16" y2="258.7" class="tk"/><line x1="440.16" y1="218.4" x2="440.16" y2="222.9" class="tk"/><text transform="translate(440.16,270.9) scale(1,1.1)" class="tl" text-anchor="middle">4</text><line x1="492.81" y1="263.2" x2="492.81" y2="258.7" class="tk"/><line x1="492.81" y1="218.4" x2="492.81" y2="222.9" class="tk"/><text transform="translate(492.81,270.9) scale(1,1.1)" class="tl" text-anchor="middle">4.5</text><line x1="545.45" y1="263.2" x2="545.45" y2="258.7" class="tk"/><line x1="545.45" y1="218.4" x2="545.45" y2="222.9" class="tk"/><text transform="translate(545.45,270.9) scale(1,1.1)" class="tl" text-anchor="middle">5</text><line x1="19" y1="263.2" x2="23.5" y2="263.2" class="tk"/><line x1="545.45" y1="263.2" x2="540.95" y2="263.2" class="tk"/><text transform="translate(17.3,265.9) scale(1,1.1)" class="tl" text-anchor="end">0</text><line x1="19" y1="241.87" x2="23.5" y2="241.87" class="tk"/><line x1="545.45" y1="241.87" x2="540.95" y2="241.87" class="tk"/><text transform="translate(17.3,244.57) scale(1,1.1)" class="tl" text-anchor="end">1</text><line x1="19" y1="220.53" x2="23.5" y2="220.53" class="tk"/><line x1="545.45" y1="220.53" x2="540.95" y2="220.53" class="tk"/><text transform="translate(17.3,223.23) scale(1,1.1)" class="tl" text-anchor="end">2</text><text transform="translate(282.23,277.8) scale(1,1.1)" class="lb" text-anchor="middle">Frequency (Hz)</text><text transform="translate(11.5,240.8) rotate(-90)" x="0" y="0" class="yl" text-anchor="middle">Pressure (mmHg)</text><text transform="translate(282.23,216.2) scale(1,1.05)" class="tt" text-anchor="middle">FFT plot of Pressure Right Pulmonary Circulation</text></g></svg>
</body></html>
